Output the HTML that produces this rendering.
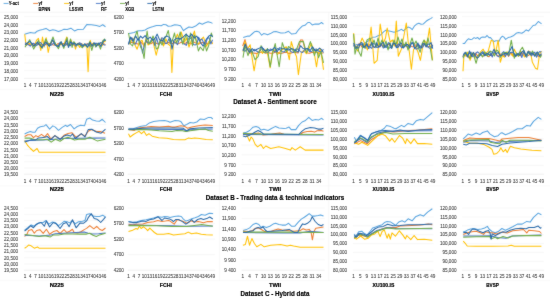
<!DOCTYPE html>
<html><head><meta charset="utf-8"><style>
html,body{margin:0;padding:0;background:#fff;}
svg{display:block;font-family:"Liberation Sans", sans-serif;will-change:transform;}
</style></head><body>
<svg width="550" height="298" viewBox="0 0 550 298">
<defs><filter id="bl" x="0" y="0" width="550" height="298" filterUnits="userSpaceOnUse" color-interpolation-filters="sRGB"><feConvolveMatrix order="3" kernelMatrix="1 2 1 2 24 2 1 2 1" edgeMode="duplicate"/></filter><filter id="bt" x="0" y="0" width="550" height="298" filterUnits="userSpaceOnUse" color-interpolation-filters="sRGB"><feConvolveMatrix order="3" kernelMatrix="0 1 0 1 16 1 0 1 0" edgeMode="none"/></filter></defs>
<rect width="550" height="298" fill="#fff"/>
<g filter="url(#bl)">
<rect width="550" height="298" fill="#fff"/>
<line x1="24.10" y1="16.60" x2="106.35" y2="16.60" stroke="#F2F2F2" stroke-width="0.6"/>
<line x1="24.10" y1="24.33" x2="106.35" y2="24.33" stroke="#F2F2F2" stroke-width="0.6"/>
<line x1="24.10" y1="32.05" x2="106.35" y2="32.05" stroke="#F2F2F2" stroke-width="0.6"/>
<line x1="24.10" y1="39.78" x2="106.35" y2="39.78" stroke="#F2F2F2" stroke-width="0.6"/>
<line x1="24.10" y1="47.50" x2="106.35" y2="47.50" stroke="#F2F2F2" stroke-width="0.6"/>
<line x1="24.10" y1="55.23" x2="106.35" y2="55.23" stroke="#F2F2F2" stroke-width="0.6"/>
<line x1="24.10" y1="62.95" x2="106.35" y2="62.95" stroke="#F2F2F2" stroke-width="0.6"/>
<line x1="24.10" y1="70.68" x2="106.35" y2="70.68" stroke="#F2F2F2" stroke-width="0.6"/>
<line x1="24.10" y1="78.40" x2="106.35" y2="78.40" stroke="#E6E6E6" stroke-width="0.6"/>
<polyline points="24.60,34.30 27.00,33.50 30.60,32.50 33.10,32.90 35.10,33.00 37.10,31.20 39.50,30.30 42.70,29.60 46.00,28.40 49.60,30.80 52.80,29.80 55.20,30.30 58.40,31.60 61.60,30.40 64.00,29.20 67.20,29.60 70.90,28.20 74.50,30.90 77.70,29.60 83.40,29.20 85.40,26.40 87.00,24.40 91.40,24.80 96.30,25.60 99.90,26.40 102.70,24.80 105.50,26.80" fill="none" stroke="#58A4DF" stroke-width="1.05" stroke-linejoin="round"/>
<polyline points="24.98,44.65 26.73,44.91 28.48,44.00 30.23,45.23 31.98,44.74 33.73,43.91 35.48,43.64 37.23,43.69 38.98,44.72 40.73,45.20 42.48,44.84 44.23,43.55 45.98,44.67 47.73,44.58 49.48,43.43 51.23,43.70 52.98,45.09 54.73,44.85 56.48,44.88 58.23,43.39 59.98,44.58 61.73,44.71 63.48,43.47 65.22,43.73 66.97,44.98 68.72,44.99 70.47,44.72 72.22,43.54 73.97,45.19 75.72,45.05 77.47,43.53 79.22,43.33 80.97,43.62 82.72,45.02 84.47,44.75 86.22,44.00 87.97,43.98 89.72,44.86 91.47,44.57 93.22,43.47 94.97,44.58 96.72,45.12 98.47,43.51 100.22,43.64 101.97,44.93 103.72,43.82 105.47,44.63" fill="none" stroke="#ED7D31" stroke-width="1.05" stroke-linejoin="round"/>
<polyline points="24.70,34.30 26.00,44.40 28.00,42.50 30.00,44.00 32.40,43.70 34.40,46.40 36.40,40.40 38.40,38.40 40.80,50.40 42.50,37.00 44.20,47.00 46.20,37.70 48.20,52.50 50.00,44.00 52.00,41.00 54.00,41.70 56.00,44.50 58.40,46.00 61.00,43.00 63.50,45.50 66.80,37.00 68.50,45.80 70.80,39.70 72.50,44.50 73.80,42.40 75.50,49.10 76.80,44.40 78.00,44.40 79.70,47.40 82.00,44.00 84.50,46.00 86.90,46.00 88.10,71.70 89.30,45.00 90.30,40.40 91.80,46.40 93.40,43.10 96.00,44.50 98.80,45.40 102.20,45.80 104.20,41.10 105.50,41.70" fill="none" stroke="#FFC000" stroke-width="1.05" stroke-linejoin="round"/>
<polyline points="24.98,42.72 26.73,43.57 28.48,44.83 30.23,46.18 31.98,43.47 33.73,43.26 35.48,46.04 37.23,45.12 38.98,42.56 40.73,42.60 42.48,45.05 44.23,45.74 45.98,43.67 47.73,43.29 49.48,45.56 51.23,45.17 52.98,43.67 54.73,42.54 56.48,46.16 58.23,45.86 59.98,42.53 61.73,43.51 63.48,45.70 65.22,45.48 66.97,43.34 68.72,44.92 70.47,45.74 72.22,43.02 73.97,42.75 75.72,46.30 77.47,44.90 79.22,42.85 80.97,43.39 82.72,45.45 84.47,45.28 86.22,45.10 87.97,43.65 89.72,45.86 91.47,45.95 93.22,46.09 94.97,43.30 96.72,43.36 98.47,44.86 100.22,42.46 101.97,42.70 103.72,44.83 105.47,45.28" fill="none" stroke="#4472C4" stroke-width="1.05" stroke-linejoin="round"/>
<polyline points="25.00,47.10 29.70,39.70 33.70,49.10 38.40,40.40 42.10,48.40 45.80,39.00 49.50,45.80 53.00,37.00 55.00,43.10 58.40,48.80 61.10,41.70 63.80,48.40 67.10,37.70 68.50,46.40 70.50,39.00 72.10,47.40 73.80,41.70 76.80,45.40 78.00,43.40 80.00,45.10 82.40,47.80 84.70,44.40 87.40,47.10 89.70,41.70 91.80,50.40 93.80,43.10 95.80,47.10 98.10,43.10 100.50,49.10 102.50,41.10 104.50,39.00 105.50,41.10" fill="none" stroke="#70AD47" stroke-width="1.05" stroke-linejoin="round"/>
<polyline points="25.00,44.70 30.00,41.40 33.70,46.10 37.40,42.40 41.80,47.40 45.80,41.70 49.20,46.40 52.70,39.70 55.00,45.10 58.40,46.40 61.10,41.70 63.40,46.40 66.80,40.40 68.50,47.40 70.80,41.70 72.50,44.40 74.20,43.10 76.80,44.70 78.00,43.70 80.70,44.70 82.70,46.40 84.70,43.70 87.70,47.10 90.10,42.40 92.10,45.80 94.10,42.70 96.50,46.10 98.80,43.10 100.80,46.40 103.20,41.70 104.80,39.70 105.50,40.70" fill="none" stroke="#2868A8" stroke-width="1.05" stroke-linejoin="round"/>
<line x1="127.70" y1="16.60" x2="215.20" y2="16.60" stroke="#F2F2F2" stroke-width="0.6"/>
<line x1="127.70" y1="32.05" x2="215.20" y2="32.05" stroke="#F2F2F2" stroke-width="0.6"/>
<line x1="127.70" y1="47.50" x2="215.20" y2="47.50" stroke="#F2F2F2" stroke-width="0.6"/>
<line x1="127.70" y1="62.95" x2="215.20" y2="62.95" stroke="#F2F2F2" stroke-width="0.6"/>
<line x1="127.70" y1="78.40" x2="215.20" y2="78.40" stroke="#E6E6E6" stroke-width="0.6"/>
<polyline points="128.40,33.60 130.80,33.20 134.00,32.60 136.40,31.60 138.80,30.80 142.00,30.80 145.20,30.00 147.60,28.40 150.00,27.40 153.20,26.60 156.40,25.60 159.60,25.40 161.20,25.80 163.60,24.40 166.00,24.80 168.20,26.20 171.30,26.10 174.70,24.70 177.20,24.90 180.50,25.70 182.20,28.60 183.50,30.70 185.60,29.00 188.90,27.00 192.20,27.40 195.60,26.10 199.40,23.00 202.30,24.20 204.80,23.00 208.10,21.70 210.60,22.40 212.50,23.40" fill="none" stroke="#58A4DF" stroke-width="1.05" stroke-linejoin="round"/>
<polyline points="128.57,43.74 130.32,42.10 132.07,42.65 133.82,42.12 135.57,43.27 137.32,43.88 139.07,44.00 140.82,42.12 142.57,43.90 144.32,43.87 146.07,42.04 147.82,42.48 149.57,43.62 151.32,43.67 153.07,42.25 154.82,42.27 156.57,43.51 158.32,43.85 160.07,42.23 161.82,42.29 163.57,43.58 165.32,43.65 167.07,42.60 168.82,42.48 170.57,43.59 172.32,43.46 174.07,42.32 175.82,42.57 177.57,43.91 179.32,43.35 181.07,42.26 182.82,42.46 184.57,43.95 186.32,42.58 188.07,42.15 189.82,43.73 191.57,43.80 193.32,42.09 195.07,42.60 196.82,43.64 198.57,43.93 200.32,43.43 202.07,42.59 203.82,42.72 205.57,42.72 207.32,43.80 209.07,43.39 210.82,42.63 212.57,42.67" fill="none" stroke="#ED7D31" stroke-width="1.05" stroke-linejoin="round"/>
<polyline points="129.00,44.20 133.00,38.10 135.00,45.00 137.10,49.20 139.50,42.00 142.10,40.20 144.00,47.00 146.50,38.00 148.00,45.00 150.10,43.20 152.50,39.00 154.50,48.00 156.20,55.20 159.20,43.20 161.50,38.00 163.50,46.00 166.00,39.00 168.00,44.00 170.70,46.20 171.90,72.40 173.30,44.20 175.50,40.00 177.30,34.10 179.50,40.00 181.30,32.10 184.40,42.20 186.50,38.00 189.00,47.00 191.50,40.00 194.40,31.10 196.50,42.00 198.40,44.20 200.50,40.00 203.50,37.10 206.50,46.20 208.50,42.00 210.50,40.20 212.60,44.00" fill="none" stroke="#FFC000" stroke-width="1.05" stroke-linejoin="round"/>
<polyline points="128.57,44.60 130.32,37.89 132.07,37.90 133.82,43.65 135.57,43.95 137.32,39.49 139.07,39.17 140.82,43.84 142.57,53.20 144.32,44.87 146.07,39.82 147.82,43.04 149.57,42.72 151.32,39.69 153.07,39.01 154.82,45.65 156.57,37.43 158.32,44.58 160.07,43.24 161.82,37.85 163.57,38.64 165.32,43.54 167.07,43.36 168.82,38.69 170.57,43.03 172.32,39.43 174.07,42.72 175.82,43.01 177.57,44.60 179.32,38.75 181.07,38.57 182.82,43.67 184.57,44.10 186.32,45.42 188.07,38.77 189.82,38.86 191.57,37.21 193.32,44.55 195.07,45.00 196.82,44.11 198.57,37.19 200.32,40.30 202.07,39.13 203.82,43.51 205.57,44.41 207.32,38.25 209.07,37.68 210.82,43.93 212.57,39.73" fill="none" stroke="#4472C4" stroke-width="1.05" stroke-linejoin="round"/>
<polyline points="128.50,33.00 130.50,44.00 132.50,46.00 135.00,37.00 137.10,31.00 139.00,42.00 141.00,48.00 142.50,50.00 144.10,58.50 145.60,42.00 147.10,31.00 149.00,44.00 151.20,42.00 153.00,36.00 154.80,40.00 156.20,49.00 158.20,48.00 160.00,41.00 162.00,45.00 164.00,40.00 166.20,36.00 168.30,30.50 170.50,44.00 172.50,40.00 174.50,33.00 176.50,43.00 178.50,38.00 180.30,32.00 182.50,44.00 184.50,39.00 186.40,34.00 188.50,44.00 190.50,33.00 192.50,46.00 194.40,35.00 196.50,42.00 198.40,51.00 200.20,47.00 203.20,50.70 205.00,44.00 206.50,51.00 208.50,46.00 210.00,40.00 211.30,33.00 212.60,37.00" fill="none" stroke="#70AD47" stroke-width="1.05" stroke-linejoin="round"/>
<polyline points="128.50,44.10 130.50,37.10 133.00,41.10 135.60,36.10 138.10,40.10 140.60,36.10 142.60,38.10 145.10,35.60 147.70,39.10 150.20,37.10 152.70,40.10 155.20,38.10 157.20,34.10 159.70,40.10 162.30,41.10 164.80,37.10 167.30,36.10 170.30,38.10 172.00,49.20 174.00,40.10 177.00,38.10 180.10,39.10 183.10,37.10 186.10,34.10 189.10,37.10 191.70,34.10 194.20,38.10 196.70,36.10 199.20,40.10 201.20,43.60 203.20,46.10 205.80,40.10 208.80,36.10 211.30,35.10 212.60,37.00" fill="none" stroke="#2868A8" stroke-width="1.05" stroke-linejoin="round"/>
<line x1="241.50" y1="20.40" x2="324.66" y2="20.40" stroke="#F2F2F2" stroke-width="0.6"/>
<line x1="241.50" y1="30.07" x2="324.66" y2="30.07" stroke="#F2F2F2" stroke-width="0.6"/>
<line x1="241.50" y1="39.73" x2="324.66" y2="39.73" stroke="#F2F2F2" stroke-width="0.6"/>
<line x1="241.50" y1="49.40" x2="324.66" y2="49.40" stroke="#F2F2F2" stroke-width="0.6"/>
<line x1="241.50" y1="59.07" x2="324.66" y2="59.07" stroke="#F2F2F2" stroke-width="0.6"/>
<line x1="241.50" y1="68.73" x2="324.66" y2="68.73" stroke="#F2F2F2" stroke-width="0.6"/>
<line x1="241.50" y1="78.40" x2="324.66" y2="78.40" stroke="#E6E6E6" stroke-width="0.6"/>
<polyline points="243.20,37.60 245.60,36.80 248.00,36.00 249.60,36.20 252.00,34.00 254.40,31.80 256.80,31.20 259.20,32.00 261.60,35.20 263.60,33.60 265.60,34.00 267.60,34.80 270.40,33.60 273.60,31.80 276.00,31.40 278.40,32.20 280.80,33.00 282.50,32.90 285.20,32.80 288.50,31.30 291.70,34.10 295.70,33.60 298.90,29.30 302.20,26.10 305.00,25.30 307.80,22.50 309.80,22.50 312.20,24.90 315.10,24.10 319.10,24.10 321.50,22.50 323.50,24.10" fill="none" stroke="#58A4DF" stroke-width="1.05" stroke-linejoin="round"/>
<polyline points="242.66,46.00 244.97,39.60 247.28,48.00 249.59,53.21 251.90,52.44 254.21,53.13 256.51,53.54 258.82,52.55 261.13,52.35 263.44,52.22 265.75,53.22 268.06,52.48 270.38,53.35 272.69,53.37 275.00,52.26 277.31,52.02 279.62,53.40 281.93,53.34 284.24,52.49 286.55,52.25 288.86,53.41 291.17,53.11 293.48,52.28 295.79,52.48 298.10,53.05 300.40,40.00 302.72,40.00 305.02,50.00 307.34,53.07 309.64,53.33 311.95,52.27 314.26,52.51 316.57,52.13 318.88,53.14 321.19,53.09 323.50,53.06" fill="none" stroke="#ED7D31" stroke-width="1.05" stroke-linejoin="round"/>
<polyline points="243.00,51.70 245.00,41.60 247.00,49.70 250.10,44.70 254.10,70.80 257.10,53.70 260.10,49.70 262.50,53.50 265.20,49.70 267.50,53.50 270.20,67.80 272.50,51.50 275.20,49.70 277.50,54.50 280.20,51.70 283.50,48.50 286.30,46.70 289.30,59.70 291.30,41.60 294.30,51.70 296.50,56.50 298.40,74.80 301.40,52.70 303.50,50.50 306.40,53.70 308.50,49.50 311.40,43.60 314.00,51.50 316.50,66.80 318.50,53.50 320.50,48.70 323.50,69.80" fill="none" stroke="#FFC000" stroke-width="1.05" stroke-linejoin="round"/>
<polyline points="242.66,49.73 244.97,51.29 247.28,48.94 249.59,48.79 251.90,52.09 254.21,49.34 256.51,51.04 258.82,52.44 261.13,48.98 263.44,48.57 265.75,52.03 268.06,52.26 270.38,48.98 272.69,49.89 275.00,51.99 277.31,48.61 279.62,49.49 281.93,51.47 284.24,52.00 286.55,48.77 288.86,48.71 291.17,51.84 293.48,52.39 295.79,49.14 298.10,49.02 300.40,51.72 302.72,52.46 305.02,49.29 307.34,48.50 309.64,51.80 311.95,51.13 314.26,49.61 316.57,49.03 318.88,51.31 321.19,51.61 323.50,49.46" fill="none" stroke="#4472C4" stroke-width="1.05" stroke-linejoin="round"/>
<polyline points="243.00,57.70 245.00,45.70 248.00,55.70 250.00,49.50 252.10,51.70 255.10,59.70 258.10,56.70 261.10,45.70 263.00,51.50 265.20,52.70 267.50,48.50 270.20,66.80 272.50,53.50 275.20,43.60 279.20,66.80 282.30,42.60 284.00,47.50 286.30,51.70 288.50,46.50 291.30,48.70 295.30,52.70 299.40,41.60 303.40,41.60 306.40,52.70 310.40,41.60 314.40,55.70 316.50,49.50 318.50,57.70 321.00,51.50 323.50,62.80" fill="none" stroke="#70AD47" stroke-width="1.05" stroke-linejoin="round"/>
<polyline points="243.20,50.50 245.20,44.00 247.30,49.30 249.70,52.50 252.10,48.50 254.50,50.90 256.90,49.30 259.40,48.10 261.80,46.90 263.80,50.10 265.80,50.90 267.80,49.30 269.80,50.90 272.30,49.70 274.70,47.30 277.10,51.70 279.50,47.70 282.00,48.50 285.20,48.90 288.50,50.10 291.70,48.50 294.90,50.10 298.10,52.10 300.50,45.70 303.00,48.50 305.40,48.90 307.80,48.50 310.20,50.50 312.60,46.90 315.10,50.90 317.50,50.10 319.50,48.10 321.50,49.70 323.50,52.50" fill="none" stroke="#2868A8" stroke-width="1.05" stroke-linejoin="round"/>
<line x1="352.80" y1="16.60" x2="433.55" y2="16.60" stroke="#F2F2F2" stroke-width="0.6"/>
<line x1="352.80" y1="25.43" x2="433.55" y2="25.43" stroke="#F2F2F2" stroke-width="0.6"/>
<line x1="352.80" y1="34.26" x2="433.55" y2="34.26" stroke="#F2F2F2" stroke-width="0.6"/>
<line x1="352.80" y1="43.09" x2="433.55" y2="43.09" stroke="#F2F2F2" stroke-width="0.6"/>
<line x1="352.80" y1="51.91" x2="433.55" y2="51.91" stroke="#F2F2F2" stroke-width="0.6"/>
<line x1="352.80" y1="60.74" x2="433.55" y2="60.74" stroke="#F2F2F2" stroke-width="0.6"/>
<line x1="352.80" y1="69.57" x2="433.55" y2="69.57" stroke="#F2F2F2" stroke-width="0.6"/>
<line x1="352.80" y1="78.40" x2="433.55" y2="78.40" stroke="#E6E6E6" stroke-width="0.6"/>
<polyline points="353.60,45.50 357.00,44.50 361.00,45.50 365.00,43.00 369.00,40.50 372.60,37.20 375.70,36.90 378.10,35.70 380.50,35.10 382.30,33.20 384.10,31.40 385.90,30.20 388.30,30.80 391.30,31.40 394.00,32.30 397.10,31.20 399.30,30.40 401.60,29.30 403.50,30.80 405.50,28.90 408.10,27.00 410.00,27.70 412.30,29.60 414.60,25.80 416.90,23.90 418.80,23.20 421.10,24.30 423.40,23.90 426.10,21.30 428.40,19.70 430.60,18.60 432.50,17.40" fill="none" stroke="#58A4DF" stroke-width="1.05" stroke-linejoin="round"/>
<polyline points="353.62,44.21 355.27,46.41 356.92,46.90 358.57,44.02 360.22,44.06 361.86,46.96 363.51,46.42 365.16,44.06 366.81,46.21 368.46,46.46 370.10,44.29 371.75,44.21 373.40,46.92 375.05,46.74 376.70,44.99 378.34,46.23 379.99,46.99 381.64,44.28 383.29,46.61 384.94,46.45 386.58,45.12 388.23,44.38 389.88,44.68 391.53,46.65 393.18,44.71 394.82,44.17 396.47,46.04 398.12,44.22 399.77,45.94 401.42,46.27 403.06,44.36 404.71,44.61 406.36,46.76 408.01,46.48 409.66,44.58 411.30,46.42 412.95,46.73 414.60,45.00 416.25,45.11 417.90,44.41 419.54,46.86 421.19,46.90 422.84,46.42 424.49,44.13 426.14,44.60 427.78,46.94 429.43,46.17 431.08,46.96 432.73,44.69" fill="none" stroke="#ED7D31" stroke-width="1.05" stroke-linejoin="round"/>
<polyline points="353.60,33.10 355.00,47.20 358.00,51.20 360.00,44.00 362.10,38.10 365.10,44.20 367.50,50.00 369.50,40.00 371.10,27.10 374.10,63.30 377.20,60.30 380.20,24.10 383.20,43.20 385.50,38.00 387.20,28.10 390.20,42.20 392.50,40.00 394.50,46.00 396.30,21.00 398.30,56.30 401.30,49.20 403.50,38.00 406.30,23.10 408.50,45.00 411.40,69.30 413.50,50.00 415.40,46.20 418.00,52.00 420.40,60.30 422.50,48.00 424.40,40.20 427.00,44.00 429.50,28.10 432.50,60.30" fill="none" stroke="#FFC000" stroke-width="1.05" stroke-linejoin="round"/>
<polyline points="353.62,45.19 355.27,48.77 356.92,47.57 358.57,44.30 360.22,44.48 361.86,44.10 363.51,46.97 365.16,48.12 366.81,43.56 368.46,48.55 370.10,47.32 371.75,48.34 373.40,43.45 375.05,43.93 376.70,47.41 378.34,47.23 379.99,44.05 381.64,44.95 383.29,47.97 384.94,47.31 386.58,43.94 388.23,48.58 389.88,47.68 391.53,47.39 393.18,43.47 394.82,43.49 396.47,47.77 398.12,44.08 399.77,44.30 401.42,47.57 403.06,47.37 404.71,44.90 406.36,45.10 408.01,47.91 409.66,47.93 411.30,43.15 412.95,43.13 414.60,48.46 416.25,48.92 417.90,48.61 419.54,45.10 421.19,47.51 422.84,47.14 424.49,43.58 426.14,44.17 427.78,46.75 429.43,48.18 431.08,47.95 432.73,44.89" fill="none" stroke="#4472C4" stroke-width="1.05" stroke-linejoin="round"/>
<polyline points="353.60,34.10 355.00,54.20 357.00,46.00 359.00,52.00 361.10,56.30 363.00,44.00 365.00,48.00 367.00,40.00 370.10,38.10 372.00,46.00 374.00,40.00 376.00,47.00 378.00,38.00 380.00,45.00 382.00,40.00 384.00,47.00 386.00,41.00 388.00,50.00 390.00,43.00 392.00,48.00 394.00,40.00 396.00,45.00 398.00,37.00 400.00,44.00 402.00,39.00 404.00,47.00 406.00,42.00 408.00,50.00 410.00,44.00 412.00,38.00 414.00,45.00 416.00,41.00 418.00,47.00 420.20,52.20 422.00,44.00 424.00,40.00 426.00,46.00 428.00,38.00 430.00,47.00 432.30,60.30" fill="none" stroke="#70AD47" stroke-width="1.05" stroke-linejoin="round"/>
<polyline points="353.62,42.91 355.27,46.99 356.92,47.66 358.57,48.11 360.22,43.13 361.86,42.47 363.51,47.17 365.16,46.33 366.81,43.80 368.46,47.12 370.10,46.42 371.75,42.35 373.40,46.68 375.05,47.66 376.70,42.67 378.34,47.01 379.99,46.48 381.64,43.39 383.29,42.37 384.94,47.08 386.58,47.23 388.23,42.84 389.88,43.49 391.53,48.43 393.18,43.09 394.82,43.56 396.47,47.21 398.12,47.36 399.77,44.08 401.42,42.97 403.06,48.19 404.71,46.34 406.36,44.47 408.01,44.64 409.66,47.78 411.30,43.09 412.95,42.71 414.60,48.29 416.25,47.00 417.90,42.92 419.54,47.97 421.19,48.07 422.84,43.40 424.49,43.88 426.14,47.00 427.78,43.87 429.43,44.50 431.08,42.68 432.73,48.66" fill="none" stroke="#2868A8" stroke-width="1.05" stroke-linejoin="round"/>
<line x1="462.00" y1="16.60" x2="543.88" y2="16.60" stroke="#F2F2F2" stroke-width="0.6"/>
<line x1="462.00" y1="25.43" x2="543.88" y2="25.43" stroke="#F2F2F2" stroke-width="0.6"/>
<line x1="462.00" y1="34.26" x2="543.88" y2="34.26" stroke="#F2F2F2" stroke-width="0.6"/>
<line x1="462.00" y1="43.09" x2="543.88" y2="43.09" stroke="#F2F2F2" stroke-width="0.6"/>
<line x1="462.00" y1="51.91" x2="543.88" y2="51.91" stroke="#F2F2F2" stroke-width="0.6"/>
<line x1="462.00" y1="60.74" x2="543.88" y2="60.74" stroke="#F2F2F2" stroke-width="0.6"/>
<line x1="462.00" y1="69.57" x2="543.88" y2="69.57" stroke="#F2F2F2" stroke-width="0.6"/>
<line x1="462.00" y1="78.40" x2="543.88" y2="78.40" stroke="#E6E6E6" stroke-width="0.6"/>
<polyline points="462.70,43.40 464.60,43.40 466.50,40.70 468.40,38.80 470.30,39.50 472.20,39.20 474.10,37.60 475.60,38.40 477.60,37.50 479.50,39.30 481.00,37.60 482.90,37.00 485.20,37.30 487.10,35.50 489.00,37.60 490.50,37.60 492.10,39.50 494.00,41.50 495.90,40.70 497.40,40.70 498.90,41.50 500.50,38.20 502.40,36.20 504.00,37.10 505.60,39.40 508.10,37.60 510.50,37.10 513.30,35.80 516.10,33.30 518.50,32.50 521.80,33.30 524.20,31.70 526.20,29.90 528.60,30.90 530.60,28.50 533.10,25.50 535.50,24.90 538.30,21.50 540.30,22.90 541.50,23.70" fill="none" stroke="#58A4DF" stroke-width="1.05" stroke-linejoin="round"/>
<polyline points="462.82,56.75 464.46,53.64 466.09,56.06 467.73,56.27 469.37,58.50 471.01,53.71 472.64,53.35 474.28,55.98 475.92,53.40 477.56,55.96 479.19,54.33 480.83,54.38 482.47,56.26 484.11,55.82 485.74,54.04 487.38,56.23 489.02,56.72 490.66,54.15 492.29,56.16 493.93,53.22 495.57,53.67 497.21,55.58 498.84,56.07 500.48,54.10 502.12,54.32 503.76,56.50 505.39,53.37 507.03,54.05 508.67,56.36 510.31,53.24 511.94,53.66 513.58,56.12 515.22,56.42 516.86,53.91 518.49,53.74 520.13,55.93 521.77,53.37 523.41,53.77 525.04,55.60 526.68,56.02 528.32,55.50 529.96,54.41 531.59,55.62 533.23,53.21 534.87,54.39 536.51,53.88 538.14,56.59 539.78,55.57 541.42,54.42" fill="none" stroke="#ED7D31" stroke-width="1.05" stroke-linejoin="round"/>
<polyline points="463.00,71.30 464.00,54.20 466.00,56.00 468.00,52.00 470.10,60.30 472.00,55.00 474.10,53.20 476.00,58.00 478.10,57.30 480.50,52.00 483.20,49.20 485.50,54.00 488.20,51.20 491.20,40.20 493.20,41.20 495.20,54.20 498.20,40.20 500.30,62.30 502.50,55.00 504.30,57.30 507.00,52.00 510.30,53.20 512.50,56.00 514.30,49.20 516.50,54.00 518.40,56.30 520.50,51.00 522.40,53.20 524.50,57.00 526.40,56.30 528.50,51.00 530.40,52.20 532.40,62.30 535.50,68.30 537.50,69.30 539.50,54.20 541.50,51.20" fill="none" stroke="#FFC000" stroke-width="1.05" stroke-linejoin="round"/>
<polyline points="462.82,56.83 464.46,53.35 466.09,53.10 467.73,55.51 469.37,53.52 471.01,52.20 472.64,56.81 474.28,56.58 475.92,52.94 477.56,51.86 479.19,53.39 480.83,55.41 482.47,53.14 484.11,53.51 485.74,55.33 487.38,55.47 489.02,51.69 490.66,53.46 492.29,57.00 493.93,52.23 495.57,52.15 497.21,56.08 498.84,56.67 500.48,57.05 502.12,53.23 503.76,51.51 505.39,56.64 507.03,53.12 508.67,55.75 510.31,52.44 511.94,52.29 513.58,53.12 515.22,56.52 516.86,55.50 518.49,53.50 520.13,52.38 521.77,57.50 523.41,52.23 525.04,53.47 526.68,57.35 528.32,52.36 529.96,51.68 531.59,55.86 533.23,52.77 534.87,52.20 536.51,57.18 538.14,53.12 539.78,51.56 541.42,52.06" fill="none" stroke="#4472C4" stroke-width="1.05" stroke-linejoin="round"/>
<polyline points="463.00,58.30 466.00,52.20 468.00,56.00 470.10,58.30 472.00,53.00 474.00,56.00 476.10,63.30 478.00,56.00 480.10,53.20 482.50,57.00 485.00,52.00 487.50,56.00 490.00,51.00 492.20,52.20 494.50,56.00 496.50,50.00 498.20,51.20 500.50,57.00 503.00,53.00 506.30,52.20 508.50,55.00 511.30,40.20 514.30,58.30 516.50,53.00 518.50,56.00 520.50,50.00 522.40,47.20 524.50,52.00 526.40,56.30 528.50,52.00 530.50,55.00 532.50,51.00 535.00,56.00 537.50,52.00 540.50,57.30 541.50,55.00" fill="none" stroke="#70AD47" stroke-width="1.05" stroke-linejoin="round"/>
<polyline points="463.40,54.70 465.30,52.40 467.60,57.00 469.50,50.90 471.50,56.20 473.40,52.40 475.30,55.50 477.20,58.10 479.10,56.60 481.00,53.20 482.90,51.60 484.80,55.80 486.70,53.20 488.60,54.30 490.50,55.50 492.40,52.40 494.00,49.30 495.90,53.90 498.20,52.40 500.10,55.50 502.40,54.90 504.80,53.30 507.30,54.10 509.70,50.90 512.10,46.50 513.70,52.90 515.70,56.10 517.70,53.70 519.80,55.30 521.80,52.10 523.80,50.50 525.80,56.10 528.20,51.30 530.20,54.50 532.30,52.90 534.70,56.10 537.10,52.10 539.50,56.10 541.50,53.70" fill="none" stroke="#2868A8" stroke-width="1.05" stroke-linejoin="round"/>
<line x1="24.10" y1="112.10" x2="106.35" y2="112.10" stroke="#F2F2F2" stroke-width="0.6"/>
<line x1="24.10" y1="118.31" x2="106.35" y2="118.31" stroke="#F2F2F2" stroke-width="0.6"/>
<line x1="24.10" y1="124.52" x2="106.35" y2="124.52" stroke="#F2F2F2" stroke-width="0.6"/>
<line x1="24.10" y1="130.73" x2="106.35" y2="130.73" stroke="#F2F2F2" stroke-width="0.6"/>
<line x1="24.10" y1="136.94" x2="106.35" y2="136.94" stroke="#F2F2F2" stroke-width="0.6"/>
<line x1="24.10" y1="143.15" x2="106.35" y2="143.15" stroke="#F2F2F2" stroke-width="0.6"/>
<line x1="24.10" y1="149.36" x2="106.35" y2="149.36" stroke="#F2F2F2" stroke-width="0.6"/>
<line x1="24.10" y1="155.57" x2="106.35" y2="155.57" stroke="#F2F2F2" stroke-width="0.6"/>
<line x1="24.10" y1="161.78" x2="106.35" y2="161.78" stroke="#F2F2F2" stroke-width="0.6"/>
<line x1="24.10" y1="167.99" x2="106.35" y2="167.99" stroke="#F2F2F2" stroke-width="0.6"/>
<line x1="24.10" y1="174.20" x2="106.35" y2="174.20" stroke="#E6E6E6" stroke-width="0.6"/>
<polyline points="24.60,134.00 27.00,132.70 30.30,131.50 32.70,132.30 35.10,132.30 37.50,128.30 40.30,126.70 44.40,125.90 46.00,124.70 49.60,129.10 52.80,125.90 55.30,127.10 58.50,130.30 62.50,127.10 65.70,125.30 67.20,126.50 70.50,124.50 74.10,128.90 77.30,126.50 80.50,125.30 84.60,125.70 86.60,119.30 89.80,118.00 92.60,120.10 96.30,120.90 99.50,121.30 102.30,119.30 105.50,122.50" fill="none" stroke="#58A4DF" stroke-width="1.05" stroke-linejoin="round"/>
<polyline points="24.60,136.50 27.80,134.80 31.10,134.80 33.50,137.70 35.90,135.60 37.90,136.90 41.50,134.40 44.80,136.90 47.60,133.60 50.80,138.90 54.90,135.60 60.10,139.30 64.00,135.30 68.00,133.60 72.10,132.80 76.10,137.30 81.30,134.00 85.00,136.10 88.20,131.20 91.40,129.60 96.30,131.60 100.30,131.60 105.10,133.20" fill="none" stroke="#ED7D31" stroke-width="1.05" stroke-linejoin="round"/>
<polyline points="24.60,140.50 27.80,145.70 30.50,148.50 33.50,151.40 37.10,148.50 39.10,152.20 105.50,152.20" fill="none" stroke="#FFC000" stroke-width="1.05" stroke-linejoin="round"/>
<polyline points="24.60,141.00 30.00,140.60 35.10,140.30 43.20,140.00 55.00,139.20 64.00,138.40 80.00,138.20 95.00,138.10 105.50,138.00" fill="none" stroke="#4472C4" stroke-width="1.05" stroke-linejoin="round"/>
<polyline points="24.60,138.10 29.50,138.10 35.10,139.70 43.20,139.70 47.20,139.30 51.20,142.10 55.30,139.30 60.10,141.30 64.00,138.50 68.00,137.30 74.50,140.10 80.10,138.90 85.00,139.30 89.80,137.30 97.10,140.90 105.50,139.30" fill="none" stroke="#70AD47" stroke-width="1.05" stroke-linejoin="round"/>
<polyline points="24.60,142.10 27.80,140.90 31.10,139.70 35.10,140.10 38.30,138.10 41.50,137.70 44.80,137.30 47.20,136.50 50.80,139.70 54.90,135.60 60.10,139.30 64.00,136.10 67.20,134.90 70.50,136.10 72.50,134.00 75.30,138.50 81.30,133.60 85.00,136.90 88.20,129.60 91.80,129.20 96.30,132.00 101.10,133.20 105.50,129.20" fill="none" stroke="#2868A8" stroke-width="1.05" stroke-linejoin="round"/>
<line x1="127.70" y1="112.10" x2="215.20" y2="112.10" stroke="#F2F2F2" stroke-width="0.6"/>
<line x1="127.70" y1="127.62" x2="215.20" y2="127.62" stroke="#F2F2F2" stroke-width="0.6"/>
<line x1="127.70" y1="143.15" x2="215.20" y2="143.15" stroke="#F2F2F2" stroke-width="0.6"/>
<line x1="127.70" y1="158.67" x2="215.20" y2="158.67" stroke="#F2F2F2" stroke-width="0.6"/>
<line x1="127.70" y1="174.20" x2="215.20" y2="174.20" stroke="#E6E6E6" stroke-width="0.6"/>
<polyline points="128.50,129.10 132.70,129.10 136.90,127.50 141.10,126.20 146.10,125.40 149.40,122.90 153.60,121.60 159.40,120.80 164.50,120.40 167.80,121.20 170.00,122.30 175.00,120.40 178.40,120.80 180.90,121.60 183.80,125.80 186.70,124.50 190.10,122.50 193.40,122.90 196.80,122.00 200.10,119.10 204.30,119.50 208.50,117.40 211.00,117.40 212.80,119.00" fill="none" stroke="#58A4DF" stroke-width="1.05" stroke-linejoin="round"/>
<polyline points="128.50,129.60 134.40,130.40 138.50,127.90 146.90,127.10 151.10,126.60 159.40,127.10 168.60,126.20 172.00,127.10 175.00,127.10 180.90,125.80 185.00,126.60 187.60,128.30 191.70,127.10 198.40,125.80 205.10,125.00 212.80,125.40" fill="none" stroke="#ED7D31" stroke-width="1.05" stroke-linejoin="round"/>
<polyline points="128.50,133.70 130.10,137.00 133.40,134.50 136.60,132.60 139.10,131.30 141.50,133.70 144.00,131.30 146.50,135.40 148.90,133.70 152.20,136.20 158.70,137.80 166.90,138.30 173.50,139.50 180.00,139.80 184.90,139.80 188.20,138.10 191.50,138.60 194.70,138.10 199.60,138.60 206.20,139.50 212.80,139.80" fill="none" stroke="#FFC000" stroke-width="1.05" stroke-linejoin="round"/>
<polyline points="128.50,129.30 150.00,129.20 172.00,129.60 183.40,129.60 186.70,131.20 190.10,129.80 212.80,129.00" fill="none" stroke="#4472C4" stroke-width="1.05" stroke-linejoin="round"/>
<polyline points="128.50,129.60 142.70,129.60 151.10,130.00 159.40,130.80 172.00,131.40 176.70,130.40 182.50,130.80 185.50,131.60 190.10,130.80 199.30,129.60 205.10,129.10 208.50,130.40 212.80,131.20" fill="none" stroke="#70AD47" stroke-width="1.05" stroke-linejoin="round"/>
<polyline points="128.50,129.10 134.40,129.10 142.70,128.30 151.10,127.90 172.00,127.90 178.40,127.90 183.40,128.30 186.70,130.80 190.10,128.70 199.30,127.90 212.80,127.50" fill="none" stroke="#2868A8" stroke-width="1.05" stroke-linejoin="round"/>
<line x1="241.50" y1="116.10" x2="324.66" y2="116.10" stroke="#F2F2F2" stroke-width="0.6"/>
<line x1="241.50" y1="125.78" x2="324.66" y2="125.78" stroke="#F2F2F2" stroke-width="0.6"/>
<line x1="241.50" y1="135.47" x2="324.66" y2="135.47" stroke="#F2F2F2" stroke-width="0.6"/>
<line x1="241.50" y1="145.15" x2="324.66" y2="145.15" stroke="#F2F2F2" stroke-width="0.6"/>
<line x1="241.50" y1="154.83" x2="324.66" y2="154.83" stroke="#F2F2F2" stroke-width="0.6"/>
<line x1="241.50" y1="164.52" x2="324.66" y2="164.52" stroke="#F2F2F2" stroke-width="0.6"/>
<line x1="241.50" y1="174.20" x2="324.66" y2="174.20" stroke="#E6E6E6" stroke-width="0.6"/>
<polyline points="243.00,133.10 246.40,132.20 249.70,130.50 253.00,127.20 256.00,126.40 258.90,127.60 261.00,130.10 263.90,129.30 268.10,130.50 271.40,128.50 275.60,126.40 279.00,128.00 284.00,128.40 286.20,128.30 289.10,127.10 291.20,129.60 295.80,129.60 298.70,125.40 302.10,122.00 305.00,120.80 308.80,117.40 312.10,120.40 315.40,119.50 318.80,119.90 321.70,118.30 323.50,119.90" fill="none" stroke="#58A4DF" stroke-width="1.05" stroke-linejoin="round"/>
<polyline points="243.00,133.90 254.70,133.50 258.90,133.10 263.10,135.10 271.40,134.30 275.60,133.50 279.80,133.10 284.00,134.30 298.00,134.40 300.40,134.20 302.90,132.50 307.10,131.60 311.30,131.20 314.60,132.10 317.10,130.80 321.30,130.40 323.50,131.20" fill="none" stroke="#ED7D31" stroke-width="1.05" stroke-linejoin="round"/>
<polyline points="242.90,133.00 247.00,135.40 249.50,141.10 251.10,137.00 252.70,138.60 255.20,144.40 257.60,146.80 260.90,144.40 263.40,148.50 265.80,146.00 270.70,148.50 278.90,146.80 285.50,148.50 290.40,150.10 292.00,147.60 295.30,150.10 300.20,146.80 305.10,150.10 311.60,150.10 323.50,150.10" fill="none" stroke="#FFC000" stroke-width="1.05" stroke-linejoin="round"/>
<polyline points="243.00,134.40 284.00,134.80 323.50,135.00" fill="none" stroke="#4472C4" stroke-width="1.05" stroke-linejoin="round"/>
<polyline points="243.00,133.60 260.00,134.00 284.00,134.30 323.50,134.60" fill="none" stroke="#70AD47" stroke-width="1.05" stroke-linejoin="round"/>
<polyline points="243.00,136.00 245.50,136.80 248.90,135.60 252.20,133.90 254.70,132.20 258.10,130.50 261.40,132.20 263.90,134.30 284.00,134.30 298.70,134.60 302.10,131.20 305.40,128.70 310.40,127.50 314.60,127.90 318.00,129.10 321.30,129.10 323.50,128.30" fill="none" stroke="#2868A8" stroke-width="1.05" stroke-linejoin="round"/>
<line x1="352.80" y1="112.10" x2="433.55" y2="112.10" stroke="#F2F2F2" stroke-width="0.6"/>
<line x1="352.80" y1="120.97" x2="433.55" y2="120.97" stroke="#F2F2F2" stroke-width="0.6"/>
<line x1="352.80" y1="129.84" x2="433.55" y2="129.84" stroke="#F2F2F2" stroke-width="0.6"/>
<line x1="352.80" y1="138.71" x2="433.55" y2="138.71" stroke="#F2F2F2" stroke-width="0.6"/>
<line x1="352.80" y1="147.59" x2="433.55" y2="147.59" stroke="#F2F2F2" stroke-width="0.6"/>
<line x1="352.80" y1="156.46" x2="433.55" y2="156.46" stroke="#F2F2F2" stroke-width="0.6"/>
<line x1="352.80" y1="165.33" x2="433.55" y2="165.33" stroke="#F2F2F2" stroke-width="0.6"/>
<line x1="352.80" y1="174.20" x2="433.55" y2="174.20" stroke="#E6E6E6" stroke-width="0.6"/>
<polyline points="354.30,137.30 356.40,141.10 360.20,135.20 365.00,137.90 367.70,140.60 370.40,134.60 375.80,132.00 381.10,130.40 384.40,128.20 386.50,125.50 390.80,126.60 394.00,128.20 396.00,128.80 401.40,125.40 404.10,126.80 408.10,123.40 412.80,124.80 416.20,120.80 420.20,119.40 423.50,120.10 427.60,116.70 432.30,112.70" fill="none" stroke="#58A4DF" stroke-width="1.05" stroke-linejoin="round"/>
<polyline points="354.30,143.80 360.70,140.60 367.20,143.80 371.50,139.50 376.90,136.30 382.20,133.00 387.60,131.40 394.00,132.00 405.40,130.80 418.80,130.10 432.30,128.80" fill="none" stroke="#ED7D31" stroke-width="1.05" stroke-linejoin="round"/>
<polyline points="354.30,142.70 358.60,144.30 361.80,142.20 367.70,145.40 371.50,141.60 377.90,135.70 382.20,134.10 385.40,135.70 389.70,141.10 391.90,138.40 394.70,142.20 399.40,135.50 402.70,138.20 405.40,143.60 406.80,138.90 410.80,143.60 414.10,138.90 417.50,143.60 424.20,143.60 432.30,144.20" fill="none" stroke="#FFC000" stroke-width="1.05" stroke-linejoin="round"/>
<polyline points="354.30,142.50 360.70,138.50 367.20,142.50 371.50,137.50 377.90,133.00 385.40,131.50 393.00,131.00 432.30,130.80" fill="none" stroke="#4472C4" stroke-width="1.05" stroke-linejoin="round"/>
<polyline points="354.30,141.60 360.70,137.90 367.20,141.60 371.50,136.80 377.90,134.10 385.40,132.50 393.00,134.10 405.00,133.50 432.30,133.50" fill="none" stroke="#70AD47" stroke-width="1.05" stroke-linejoin="round"/>
<polyline points="354.30,143.20 356.40,141.10 360.70,135.70 365.00,138.50 367.70,140.50 371.50,133.60 379.00,130.90 385.40,130.40 393.00,131.40 400.10,130.10 408.10,131.50 418.80,130.10 432.30,129.50" fill="none" stroke="#2868A8" stroke-width="1.05" stroke-linejoin="round"/>
<line x1="462.00" y1="112.10" x2="543.88" y2="112.10" stroke="#F2F2F2" stroke-width="0.6"/>
<line x1="462.00" y1="120.97" x2="543.88" y2="120.97" stroke="#F2F2F2" stroke-width="0.6"/>
<line x1="462.00" y1="129.84" x2="543.88" y2="129.84" stroke="#F2F2F2" stroke-width="0.6"/>
<line x1="462.00" y1="138.71" x2="543.88" y2="138.71" stroke="#F2F2F2" stroke-width="0.6"/>
<line x1="462.00" y1="147.59" x2="543.88" y2="147.59" stroke="#F2F2F2" stroke-width="0.6"/>
<line x1="462.00" y1="156.46" x2="543.88" y2="156.46" stroke="#F2F2F2" stroke-width="0.6"/>
<line x1="462.00" y1="165.33" x2="543.88" y2="165.33" stroke="#F2F2F2" stroke-width="0.6"/>
<line x1="462.00" y1="174.20" x2="543.88" y2="174.20" stroke="#E6E6E6" stroke-width="0.6"/>
<polyline points="463.20,138.90 465.40,136.80 468.10,134.10 471.80,135.20 476.10,133.00 479.90,134.60 482.60,132.50 487.40,130.90 490.10,134.10 494.40,136.80 498.10,135.70 500.80,133.00 502.00,132.80 505.40,134.80 508.70,133.50 512.70,131.50 517.40,128.80 522.10,128.80 526.80,125.40 530.20,126.10 533.50,121.40 538.20,117.40 541.40,119.40" fill="none" stroke="#58A4DF" stroke-width="1.05" stroke-linejoin="round"/>
<polyline points="463.20,140.60 469.70,137.90 476.10,138.40 489.00,138.40 495.40,140.00 499.70,141.10 502.00,138.90 510.10,138.20 518.10,137.50 528.80,137.50 541.40,140.20" fill="none" stroke="#ED7D31" stroke-width="1.05" stroke-linejoin="round"/>
<polyline points="463.20,141.40 469.60,143.00 477.60,143.30 484.00,144.60 488.80,147.00 492.00,149.40 493.60,154.20 496.80,153.40 499.20,151.00 500.80,147.80 503.20,151.80 505.60,149.40 507.20,152.60 510.40,146.20 514.40,147.80 520.80,149.10 532.00,150.20 541.40,150.70" fill="none" stroke="#FFC000" stroke-width="1.05" stroke-linejoin="round"/>
<polyline points="463.20,142.20 470.70,140.60 489.00,141.00 495.40,142.50 502.00,141.80 520.00,141.00 541.40,140.60" fill="none" stroke="#4472C4" stroke-width="1.05" stroke-linejoin="round"/>
<polyline points="463.20,141.10 469.70,140.00 489.00,139.50 490.10,142.20 495.40,143.20 499.70,143.80 502.00,140.20 506.00,142.20 510.10,140.20 528.80,140.20 541.40,140.90" fill="none" stroke="#70AD47" stroke-width="1.05" stroke-linejoin="round"/>
<polyline points="463.20,144.30 466.40,144.90 469.70,143.20 476.10,143.20 486.90,143.80 492.20,145.40 497.60,146.50 502.00,144.20 510.10,142.90 528.80,141.60 541.40,140.20" fill="none" stroke="#2868A8" stroke-width="1.05" stroke-linejoin="round"/>
<line x1="24.10" y1="208.10" x2="106.35" y2="208.10" stroke="#F2F2F2" stroke-width="0.6"/>
<line x1="24.10" y1="214.31" x2="106.35" y2="214.31" stroke="#F2F2F2" stroke-width="0.6"/>
<line x1="24.10" y1="220.52" x2="106.35" y2="220.52" stroke="#F2F2F2" stroke-width="0.6"/>
<line x1="24.10" y1="226.73" x2="106.35" y2="226.73" stroke="#F2F2F2" stroke-width="0.6"/>
<line x1="24.10" y1="232.94" x2="106.35" y2="232.94" stroke="#F2F2F2" stroke-width="0.6"/>
<line x1="24.10" y1="239.15" x2="106.35" y2="239.15" stroke="#F2F2F2" stroke-width="0.6"/>
<line x1="24.10" y1="245.36" x2="106.35" y2="245.36" stroke="#F2F2F2" stroke-width="0.6"/>
<line x1="24.10" y1="251.57" x2="106.35" y2="251.57" stroke="#F2F2F2" stroke-width="0.6"/>
<line x1="24.10" y1="257.78" x2="106.35" y2="257.78" stroke="#F2F2F2" stroke-width="0.6"/>
<line x1="24.10" y1="263.99" x2="106.35" y2="263.99" stroke="#F2F2F2" stroke-width="0.6"/>
<line x1="24.10" y1="270.20" x2="106.35" y2="270.20" stroke="#E6E6E6" stroke-width="0.6"/>
<polyline points="24.60,230.10 27.80,227.70 31.10,224.90 33.90,226.10 37.10,223.70 40.30,222.50 43.20,222.50 46.00,220.50 48.80,224.10 52.00,222.10 55.30,222.50 58.50,225.70 61.70,223.30 64.00,221.30 67.20,221.70 69.60,222.90 72.10,220.90 75.30,223.70 78.50,221.70 82.50,221.30 85.00,220.50 86.60,214.50 89.80,213.70 93.00,216.10 96.30,216.50 99.50,216.50 102.70,215.30 105.50,216.90" fill="none" stroke="#58A4DF" stroke-width="1.05" stroke-linejoin="round"/>
<polyline points="24.60,236.50 27.00,234.10 28.60,230.40 31.90,229.60 34.30,233.20 36.70,230.50 39.90,229.70 43.20,233.40 46.40,229.30 49.60,234.20 53.60,231.40 56.90,230.50 60.10,233.40 64.00,229.60 66.80,232.50 69.60,231.30 72.50,229.20 74.10,232.50 77.70,232.90 80.90,231.70 84.20,229.60 86.60,228.40 89.80,225.60 93.80,228.80 96.70,226.40 99.50,229.20 102.30,230.50 105.50,228.00" fill="none" stroke="#ED7D31" stroke-width="1.05" stroke-linejoin="round"/>
<polyline points="24.60,248.20 27.00,246.60 28.60,245.00 31.10,245.80 34.30,248.20 37.50,247.00 39.10,248.20 105.50,248.20" fill="none" stroke="#FFC000" stroke-width="1.05" stroke-linejoin="round"/>
<polyline points="24.60,235.30 39.10,236.10 51.20,234.90 55.30,233.70 64.00,233.30 84.20,232.10 88.20,233.30 92.20,234.10 98.70,233.70 105.50,232.90" fill="none" stroke="#4472C4" stroke-width="1.05" stroke-linejoin="round"/>
<polyline points="24.60,234.50 31.10,235.30 39.10,236.50 44.80,235.70 50.40,236.90 53.60,234.90 58.50,234.90 64.00,234.00 72.10,234.10 80.10,234.10 86.60,234.10 89.80,233.30 93.00,235.30 96.30,236.50 99.50,234.90 105.50,233.30" fill="none" stroke="#70AD47" stroke-width="1.05" stroke-linejoin="round"/>
<polyline points="24.60,231.00 27.80,228.50 30.70,225.70 33.50,227.70 35.50,225.30 38.30,223.30 41.10,222.50 44.40,226.10 46.40,220.90 49.60,226.90 53.20,222.50 56.10,223.70 60.10,228.50 63.30,223.70 66.40,222.50 69.20,226.60 72.50,219.70 76.10,227.80 80.10,222.90 83.40,223.30 86.60,220.90 88.20,217.70 91.40,213.70 94.20,218.50 97.10,219.30 98.70,220.50 100.70,222.50 103.50,219.30 105.50,216.90" fill="none" stroke="#2868A8" stroke-width="1.05" stroke-linejoin="round"/>
<line x1="127.70" y1="208.10" x2="215.20" y2="208.10" stroke="#F2F2F2" stroke-width="0.6"/>
<line x1="127.70" y1="223.62" x2="215.20" y2="223.62" stroke="#F2F2F2" stroke-width="0.6"/>
<line x1="127.70" y1="239.15" x2="215.20" y2="239.15" stroke="#F2F2F2" stroke-width="0.6"/>
<line x1="127.70" y1="254.67" x2="215.20" y2="254.67" stroke="#F2F2F2" stroke-width="0.6"/>
<line x1="127.70" y1="270.20" x2="215.20" y2="270.20" stroke="#E6E6E6" stroke-width="0.6"/>
<polyline points="128.50,221.40 132.70,222.20 136.90,221.80 141.10,220.50 146.10,219.70 149.40,218.90 153.60,218.00 157.80,216.80 162.00,217.20 164.50,216.40 167.80,216.80 170.00,217.40 174.20,216.50 178.40,216.10 181.30,216.50 183.40,219.10 185.90,221.10 188.40,220.30 190.90,219.10 195.10,217.80 198.40,216.50 201.40,214.50 205.10,215.30 209.30,213.20 212.60,213.60 212.80,214.00" fill="none" stroke="#58A4DF" stroke-width="1.05" stroke-linejoin="round"/>
<polyline points="128.50,224.30 132.70,224.70 136.90,224.30 142.70,223.90 147.70,222.60 153.60,221.80 157.80,220.50 162.00,221.40 165.30,221.00 168.60,220.50 170.00,221.10 174.20,224.10 177.50,219.50 180.90,220.70 183.80,221.60 186.70,223.20 190.90,220.70 194.20,222.00 198.40,221.60 203.40,222.80 207.60,221.60 212.80,221.60" fill="none" stroke="#ED7D31" stroke-width="1.05" stroke-linejoin="round"/>
<polyline points="128.50,231.60 131.90,230.60 136.00,228.50 137.70,229.30 139.40,226.00 141.10,228.50 143.60,226.80 146.10,228.90 147.70,230.60 149.80,228.10 151.90,230.20 154.40,232.50 157.10,234.30 163.60,234.30 168.60,233.50 173.50,235.10 180.00,234.30 184.90,233.80 188.20,232.10 191.50,233.80 196.40,233.10 201.30,234.30 206.20,234.80 212.80,235.10" fill="none" stroke="#FFC000" stroke-width="1.05" stroke-linejoin="round"/>
<polyline points="128.50,225.10 172.00,225.80 186.70,226.20 212.80,226.00" fill="none" stroke="#4472C4" stroke-width="1.05" stroke-linejoin="round"/>
<polyline points="128.50,225.60 151.10,225.60 172.00,226.40 186.70,226.60 201.80,224.50 212.80,226.20" fill="none" stroke="#70AD47" stroke-width="1.05" stroke-linejoin="round"/>
<polyline points="128.50,221.80 132.70,222.60 136.90,222.60 142.70,221.00 146.10,221.40 149.40,219.70 153.60,218.90 158.20,216.80 162.00,220.50 164.50,218.00 169.50,218.90 172.00,220.20 173.30,221.60 175.90,219.50 178.40,219.50 181.70,221.10 185.90,224.10 189.20,222.00 191.70,219.50 194.20,222.40 197.60,219.50 200.90,218.60 203.40,219.50 206.80,218.60 209.70,217.00 212.80,219.00" fill="none" stroke="#2868A8" stroke-width="1.05" stroke-linejoin="round"/>
<line x1="241.50" y1="208.10" x2="324.66" y2="208.10" stroke="#F2F2F2" stroke-width="0.6"/>
<line x1="241.50" y1="218.45" x2="324.66" y2="218.45" stroke="#F2F2F2" stroke-width="0.6"/>
<line x1="241.50" y1="228.80" x2="324.66" y2="228.80" stroke="#F2F2F2" stroke-width="0.6"/>
<line x1="241.50" y1="239.15" x2="324.66" y2="239.15" stroke="#F2F2F2" stroke-width="0.6"/>
<line x1="241.50" y1="249.50" x2="324.66" y2="249.50" stroke="#F2F2F2" stroke-width="0.6"/>
<line x1="241.50" y1="259.85" x2="324.66" y2="259.85" stroke="#F2F2F2" stroke-width="0.6"/>
<line x1="241.50" y1="270.20" x2="324.66" y2="270.20" stroke="#E6E6E6" stroke-width="0.6"/>
<polyline points="243.00,230.40 246.40,229.60 249.70,227.90 253.00,224.50 256.00,223.30 258.90,224.50 261.00,227.50 263.10,226.20 266.40,227.50 269.80,226.20 273.10,224.10 275.60,223.30 279.00,224.50 282.00,225.10 285.60,225.10 288.60,223.30 291.70,226.30 294.70,226.30 298.30,222.10 301.30,219.10 304.30,217.30 306.80,215.50 309.20,213.70 312.20,216.10 315.20,216.10 318.20,215.50 320.60,214.90 323.50,216.10" fill="none" stroke="#58A4DF" stroke-width="1.05" stroke-linejoin="round"/>
<polyline points="243.00,231.20 248.90,231.60 252.20,230.80 254.70,228.70 258.10,227.90 262.20,230.00 264.80,231.60 271.40,231.20 274.80,230.00 278.10,229.10 282.00,230.00 294.10,231.20 300.10,230.60 303.10,228.80 306.20,230.00 309.20,229.40 311.00,231.80 312.40,239.80 313.80,231.80 315.80,228.20 323.50,227.00" fill="none" stroke="#ED7D31" stroke-width="1.05" stroke-linejoin="round"/>
<polyline points="242.90,245.20 245.40,244.40 247.50,236.20 249.50,245.20 251.90,238.60 254.40,243.50 256.80,246.80 260.90,244.40 264.20,246.80 270.70,245.20 280.60,244.40 287.10,246.00 290.40,245.20 293.60,246.00 300.20,247.30 311.60,247.30 323.50,247.30" fill="none" stroke="#FFC000" stroke-width="1.05" stroke-linejoin="round"/>
<polyline points="243.00,232.60 284.00,232.90 300.10,233.00 309.80,231.20 323.50,232.60" fill="none" stroke="#4472C4" stroke-width="1.05" stroke-linejoin="round"/>
<polyline points="243.00,232.10 284.00,232.10 323.50,232.40" fill="none" stroke="#70AD47" stroke-width="1.05" stroke-linejoin="round"/>
<polyline points="243.00,232.50 246.40,232.50 249.70,231.20 253.00,230.80 255.60,228.30 258.10,227.50 260.60,228.30 263.10,227.00 265.20,230.00 267.30,231.60 282.00,230.60 289.20,229.40 294.10,232.40 297.70,232.40 300.10,227.60 302.50,223.90 304.90,224.50 307.40,223.30 310.40,220.90 312.20,216.70 315.20,221.50 318.20,224.50 321.30,225.70 323.50,224.50" fill="none" stroke="#2868A8" stroke-width="1.05" stroke-linejoin="round"/>
<line x1="352.80" y1="208.10" x2="433.55" y2="208.10" stroke="#F2F2F2" stroke-width="0.6"/>
<line x1="352.80" y1="216.97" x2="433.55" y2="216.97" stroke="#F2F2F2" stroke-width="0.6"/>
<line x1="352.80" y1="225.84" x2="433.55" y2="225.84" stroke="#F2F2F2" stroke-width="0.6"/>
<line x1="352.80" y1="234.71" x2="433.55" y2="234.71" stroke="#F2F2F2" stroke-width="0.6"/>
<line x1="352.80" y1="243.59" x2="433.55" y2="243.59" stroke="#F2F2F2" stroke-width="0.6"/>
<line x1="352.80" y1="252.46" x2="433.55" y2="252.46" stroke="#F2F2F2" stroke-width="0.6"/>
<line x1="352.80" y1="261.33" x2="433.55" y2="261.33" stroke="#F2F2F2" stroke-width="0.6"/>
<line x1="352.80" y1="270.20" x2="433.55" y2="270.20" stroke="#E6E6E6" stroke-width="0.6"/>
<polyline points="354.30,233.90 355.90,237.10 358.60,231.70 361.80,231.20 364.00,233.30 367.20,234.90 369.90,231.70 372.60,228.00 375.80,226.90 379.00,225.80 382.20,224.70 384.40,222.60 387.10,221.50 390.80,222.10 394.00,224.20 395.40,225.50 398.70,222.10 402.10,220.80 404.80,222.10 408.10,218.80 412.10,220.80 415.50,216.80 420.20,214.70 423.50,216.10 427.60,212.10 432.30,208.70" fill="none" stroke="#58A4DF" stroke-width="1.05" stroke-linejoin="round"/>
<polyline points="354.30,238.70 358.60,234.90 362.40,235.50 367.20,237.10 371.50,233.90 376.90,231.20 382.20,229.00 386.50,227.40 390.80,227.40 396.00,227.50 400.10,226.10 412.10,225.50 422.90,224.80 428.20,223.90 432.30,224.80" fill="none" stroke="#ED7D31" stroke-width="1.05" stroke-linejoin="round"/>
<polyline points="354.30,237.10 356.40,239.20 360.70,236.00 364.50,239.20 368.30,238.20 371.50,234.90 374.70,233.90 377.90,231.20 380.10,236.60 382.20,231.20 384.40,230.10 387.10,238.20 388.70,233.90 390.30,239.20 392.00,232.90 395.40,236.20 399.40,230.80 402.70,234.90 405.40,238.90 406.80,235.50 410.80,239.60 414.10,235.50 417.50,239.60 424.20,239.20 432.30,240.20" fill="none" stroke="#FFC000" stroke-width="1.05" stroke-linejoin="round"/>
<polyline points="354.30,237.50 358.60,233.50 367.20,236.50 376.90,230.50 387.60,227.50 396.00,228.50 432.30,228.80" fill="none" stroke="#4472C4" stroke-width="1.05" stroke-linejoin="round"/>
<polyline points="354.30,238.20 358.60,234.40 362.90,234.90 367.20,237.10 371.50,234.40 376.90,231.20 382.20,229.60 387.60,228.00 396.00,228.90 432.30,228.20" fill="none" stroke="#70AD47" stroke-width="1.05" stroke-linejoin="round"/>
<polyline points="354.30,235.50 356.40,237.10 359.70,233.30 363.40,233.90 366.60,235.50 370.40,232.80 374.70,229.00 379.00,226.90 383.30,226.40 387.60,224.20 393.00,225.80 400.10,225.50 408.10,224.80 418.80,224.80 432.30,224.10" fill="none" stroke="#2868A8" stroke-width="1.05" stroke-linejoin="round"/>
<line x1="462.00" y1="208.10" x2="543.88" y2="208.10" stroke="#F2F2F2" stroke-width="0.6"/>
<line x1="462.00" y1="216.97" x2="543.88" y2="216.97" stroke="#F2F2F2" stroke-width="0.6"/>
<line x1="462.00" y1="225.84" x2="543.88" y2="225.84" stroke="#F2F2F2" stroke-width="0.6"/>
<line x1="462.00" y1="234.71" x2="543.88" y2="234.71" stroke="#F2F2F2" stroke-width="0.6"/>
<line x1="462.00" y1="243.59" x2="543.88" y2="243.59" stroke="#F2F2F2" stroke-width="0.6"/>
<line x1="462.00" y1="252.46" x2="543.88" y2="252.46" stroke="#F2F2F2" stroke-width="0.6"/>
<line x1="462.00" y1="261.33" x2="543.88" y2="261.33" stroke="#F2F2F2" stroke-width="0.6"/>
<line x1="462.00" y1="270.20" x2="543.88" y2="270.20" stroke="#E6E6E6" stroke-width="0.6"/>
<polyline points="463.20,231.70 465.40,231.20 467.50,230.10 470.70,229.00 474.00,228.50 477.70,229.60 481.50,229.00 484.70,228.00 487.40,226.40 489.00,229.00 492.20,231.70 495.40,232.80 498.70,231.20 501.90,228.50 505.40,230.20 508.70,228.80 512.70,226.80 517.40,224.10 522.10,224.10 526.80,221.40 530.20,222.10 533.50,217.40 538.20,213.10 541.40,214.70" fill="none" stroke="#58A4DF" stroke-width="1.05" stroke-linejoin="round"/>
<polyline points="463.20,234.40 467.50,232.80 471.80,231.70 476.10,231.20 480.40,232.80 483.60,234.40 485.80,231.70 489.00,232.80 492.20,232.80 496.50,233.90 500.80,232.30 502.00,232.20 507.40,232.90 512.70,230.80 518.10,230.20 523.50,229.50 526.80,232.90 528.80,230.20 534.20,230.80 539.60,231.50 541.40,233.50" fill="none" stroke="#ED7D31" stroke-width="1.05" stroke-linejoin="round"/>
<polyline points="463.20,241.20 464.80,242.80 467.20,246.00 476.00,246.30 492.00,246.30 508.00,246.00 511.20,245.20 514.40,246.30 541.40,246.30" fill="none" stroke="#FFC000" stroke-width="1.05" stroke-linejoin="round"/>
<polyline points="463.20,236.00 480.00,236.00 490.00,235.80 497.60,237.50 506.00,238.20 512.00,236.00 541.40,234.90" fill="none" stroke="#4472C4" stroke-width="1.05" stroke-linejoin="round"/>
<polyline points="463.20,237.20 476.00,236.70 489.60,236.40 491.20,238.80 495.20,237.20 497.60,238.70 503.00,236.60 508.00,238.00 512.80,236.10 524.00,235.60 541.40,235.60" fill="none" stroke="#70AD47" stroke-width="1.05" stroke-linejoin="round"/>
<polyline points="463.20,232.80 466.40,232.30 468.60,234.40 470.20,231.70 472.40,229.00 476.10,229.60 479.30,231.20 483.10,232.80 485.80,231.20 488.50,230.60 490.10,233.30 491.10,239.20 492.20,233.90 495.40,235.50 499.70,233.30 503.00,231.70 506.00,232.20 510.10,230.20 515.40,228.80 520.80,228.20 526.20,228.80 528.80,227.50 534.20,227.50 538.20,226.10 540.30,228.20 541.40,227.50" fill="none" stroke="#2868A8" stroke-width="1.05" stroke-linejoin="round"/>
<line x1="3.60" y1="3.45" x2="8.60" y2="3.45" stroke="#58A4DF" stroke-width="0.9"/>
<line x1="33.20" y1="3.45" x2="38.20" y2="3.45" stroke="#ED7D31" stroke-width="0.9"/>
<line x1="64.10" y1="3.45" x2="69.10" y2="3.45" stroke="#FFC000" stroke-width="0.9"/>
<line x1="95.90" y1="3.45" x2="100.90" y2="3.45" stroke="#4472C4" stroke-width="0.9"/>
<line x1="120.00" y1="3.45" x2="125.00" y2="3.45" stroke="#70AD47" stroke-width="0.9"/>
<line x1="147.30" y1="3.45" x2="152.30" y2="3.45" stroke="#2868A8" stroke-width="0.9"/>
<line x1="0" y1="12.2" x2="550" y2="12.2" stroke="#EEEEEE" stroke-width="0.6"/>
<line x1="0" y1="89.6" x2="550" y2="89.6" stroke="#F5F5F5" stroke-width="0.6"/>
<line x1="0" y1="185.8" x2="550" y2="185.8" stroke="#F5F5F5" stroke-width="0.6"/>
<line x1="0" y1="280.6" x2="550" y2="280.6" stroke="#F5F5F5" stroke-width="0.6"/>
<line x1="219.6" y1="12.2" x2="219.6" y2="280.6" stroke="#F3F3F3" stroke-width="0.6"/>
<line x1="328.7" y1="12.2" x2="328.7" y2="280.6" stroke="#F3F3F3" stroke-width="0.6"/>
</g>
<g filter="url(#bt)">
<text x="18.10" y="18.86" font-size="4.6" text-anchor="end" font-weight="normal" fill="#4d4d4d" stroke="#4d4d4d" stroke-width="0.1">25,000</text>
<text x="18.10" y="26.58" font-size="4.6" text-anchor="end" font-weight="normal" fill="#4d4d4d" stroke="#4d4d4d" stroke-width="0.1">24,000</text>
<text x="18.10" y="34.31" font-size="4.6" text-anchor="end" font-weight="normal" fill="#4d4d4d" stroke="#4d4d4d" stroke-width="0.1">23,000</text>
<text x="18.10" y="42.03" font-size="4.6" text-anchor="end" font-weight="normal" fill="#4d4d4d" stroke="#4d4d4d" stroke-width="0.1">22,000</text>
<text x="18.10" y="49.76" font-size="4.6" text-anchor="end" font-weight="normal" fill="#4d4d4d" stroke="#4d4d4d" stroke-width="0.1">21,000</text>
<text x="18.10" y="57.48" font-size="4.6" text-anchor="end" font-weight="normal" fill="#4d4d4d" stroke="#4d4d4d" stroke-width="0.1">20,000</text>
<text x="18.10" y="65.21" font-size="4.6" text-anchor="end" font-weight="normal" fill="#4d4d4d" stroke="#4d4d4d" stroke-width="0.1">19,000</text>
<text x="18.10" y="72.93" font-size="4.6" text-anchor="end" font-weight="normal" fill="#4d4d4d" stroke="#4d4d4d" stroke-width="0.1">18,000</text>
<text x="18.10" y="80.66" font-size="4.6" text-anchor="end" font-weight="normal" fill="#4d4d4d" stroke="#4d4d4d" stroke-width="0.1">17,000</text>
<text x="24.98" y="86.96" font-size="4.6" text-anchor="middle" font-weight="normal" fill="#4d4d4d" stroke="#4d4d4d" stroke-width="0.1">1</text>
<text x="30.23" y="86.96" font-size="4.6" text-anchor="middle" font-weight="normal" fill="#4d4d4d" stroke="#4d4d4d" stroke-width="0.1">4</text>
<text x="35.48" y="86.96" font-size="4.6" text-anchor="middle" font-weight="normal" fill="#4d4d4d" stroke="#4d4d4d" stroke-width="0.1">7</text>
<text x="40.73" y="86.96" font-size="4.6" text-anchor="middle" font-weight="normal" fill="#4d4d4d" stroke="#4d4d4d" stroke-width="0.1">10</text>
<text x="45.98" y="86.96" font-size="4.6" text-anchor="middle" font-weight="normal" fill="#4d4d4d" stroke="#4d4d4d" stroke-width="0.1">13</text>
<text x="51.23" y="86.96" font-size="4.6" text-anchor="middle" font-weight="normal" fill="#4d4d4d" stroke="#4d4d4d" stroke-width="0.1">16</text>
<text x="56.48" y="86.96" font-size="4.6" text-anchor="middle" font-weight="normal" fill="#4d4d4d" stroke="#4d4d4d" stroke-width="0.1">19</text>
<text x="61.73" y="86.96" font-size="4.6" text-anchor="middle" font-weight="normal" fill="#4d4d4d" stroke="#4d4d4d" stroke-width="0.1">22</text>
<text x="66.97" y="86.96" font-size="4.6" text-anchor="middle" font-weight="normal" fill="#4d4d4d" stroke="#4d4d4d" stroke-width="0.1">25</text>
<text x="72.22" y="86.96" font-size="4.6" text-anchor="middle" font-weight="normal" fill="#4d4d4d" stroke="#4d4d4d" stroke-width="0.1">28</text>
<text x="77.47" y="86.96" font-size="4.6" text-anchor="middle" font-weight="normal" fill="#4d4d4d" stroke="#4d4d4d" stroke-width="0.1">31</text>
<text x="82.72" y="86.96" font-size="4.6" text-anchor="middle" font-weight="normal" fill="#4d4d4d" stroke="#4d4d4d" stroke-width="0.1">34</text>
<text x="87.97" y="86.96" font-size="4.6" text-anchor="middle" font-weight="normal" fill="#4d4d4d" stroke="#4d4d4d" stroke-width="0.1">37</text>
<text x="93.22" y="86.96" font-size="4.6" text-anchor="middle" font-weight="normal" fill="#4d4d4d" stroke="#4d4d4d" stroke-width="0.1">40</text>
<text x="98.47" y="86.96" font-size="4.6" text-anchor="middle" font-weight="normal" fill="#4d4d4d" stroke="#4d4d4d" stroke-width="0.1">43</text>
<text x="103.72" y="86.96" font-size="4.6" text-anchor="middle" font-weight="normal" fill="#4d4d4d" stroke="#4d4d4d" stroke-width="0.1">46</text>
<text transform="translate(56.80,95.89) scale(1,1.15)" font-size="5.3" text-anchor="middle" font-weight="bold" fill="#000" stroke="#000" stroke-width="0.18" textLength="14.2" lengthAdjust="spacingAndGlyphs">N225</text>
<text x="123.90" y="18.86" font-size="4.6" text-anchor="end" font-weight="normal" fill="#4d4d4d" stroke="#4d4d4d" stroke-width="0.1">6200</text>
<text x="123.90" y="34.31" font-size="4.6" text-anchor="end" font-weight="normal" fill="#4d4d4d" stroke="#4d4d4d" stroke-width="0.1">5700</text>
<text x="123.90" y="49.76" font-size="4.6" text-anchor="end" font-weight="normal" fill="#4d4d4d" stroke="#4d4d4d" stroke-width="0.1">5200</text>
<text x="123.90" y="65.21" font-size="4.6" text-anchor="end" font-weight="normal" fill="#4d4d4d" stroke="#4d4d4d" stroke-width="0.1">4700</text>
<text x="123.90" y="80.66" font-size="4.6" text-anchor="end" font-weight="normal" fill="#4d4d4d" stroke="#4d4d4d" stroke-width="0.1">4200</text>
<text x="128.57" y="86.96" font-size="4.6" text-anchor="middle" font-weight="normal" fill="#4d4d4d" stroke="#4d4d4d" stroke-width="0.1">1</text>
<text x="133.82" y="86.96" font-size="4.6" text-anchor="middle" font-weight="normal" fill="#4d4d4d" stroke="#4d4d4d" stroke-width="0.1">4</text>
<text x="139.07" y="86.96" font-size="4.6" text-anchor="middle" font-weight="normal" fill="#4d4d4d" stroke="#4d4d4d" stroke-width="0.1">7</text>
<text x="144.32" y="86.96" font-size="4.6" text-anchor="middle" font-weight="normal" fill="#4d4d4d" stroke="#4d4d4d" stroke-width="0.1">10</text>
<text x="149.57" y="86.96" font-size="4.6" text-anchor="middle" font-weight="normal" fill="#4d4d4d" stroke="#4d4d4d" stroke-width="0.1">13</text>
<text x="154.82" y="86.96" font-size="4.6" text-anchor="middle" font-weight="normal" fill="#4d4d4d" stroke="#4d4d4d" stroke-width="0.1">16</text>
<text x="160.07" y="86.96" font-size="4.6" text-anchor="middle" font-weight="normal" fill="#4d4d4d" stroke="#4d4d4d" stroke-width="0.1">19</text>
<text x="165.32" y="86.96" font-size="4.6" text-anchor="middle" font-weight="normal" fill="#4d4d4d" stroke="#4d4d4d" stroke-width="0.1">22</text>
<text x="170.57" y="86.96" font-size="4.6" text-anchor="middle" font-weight="normal" fill="#4d4d4d" stroke="#4d4d4d" stroke-width="0.1">25</text>
<text x="175.82" y="86.96" font-size="4.6" text-anchor="middle" font-weight="normal" fill="#4d4d4d" stroke="#4d4d4d" stroke-width="0.1">28</text>
<text x="181.07" y="86.96" font-size="4.6" text-anchor="middle" font-weight="normal" fill="#4d4d4d" stroke="#4d4d4d" stroke-width="0.1">31</text>
<text x="186.32" y="86.96" font-size="4.6" text-anchor="middle" font-weight="normal" fill="#4d4d4d" stroke="#4d4d4d" stroke-width="0.1">34</text>
<text x="191.57" y="86.96" font-size="4.6" text-anchor="middle" font-weight="normal" fill="#4d4d4d" stroke="#4d4d4d" stroke-width="0.1">37</text>
<text x="196.82" y="86.96" font-size="4.6" text-anchor="middle" font-weight="normal" fill="#4d4d4d" stroke="#4d4d4d" stroke-width="0.1">40</text>
<text x="202.07" y="86.96" font-size="4.6" text-anchor="middle" font-weight="normal" fill="#4d4d4d" stroke="#4d4d4d" stroke-width="0.1">43</text>
<text x="207.32" y="86.96" font-size="4.6" text-anchor="middle" font-weight="normal" fill="#4d4d4d" stroke="#4d4d4d" stroke-width="0.1">46</text>
<text x="212.57" y="86.96" font-size="4.6" text-anchor="middle" font-weight="normal" fill="#4d4d4d" stroke="#4d4d4d" stroke-width="0.1">49</text>
<text transform="translate(165.90,95.89) scale(1,1.15)" font-size="5.3" text-anchor="middle" font-weight="bold" fill="#000" stroke="#000" stroke-width="0.18" textLength="12.2" lengthAdjust="spacingAndGlyphs">FCHI</text>
<text x="235.80" y="22.66" font-size="4.6" text-anchor="end" font-weight="normal" fill="#4d4d4d" stroke="#4d4d4d" stroke-width="0.1">12,200</text>
<text x="235.80" y="32.32" font-size="4.6" text-anchor="end" font-weight="normal" fill="#4d4d4d" stroke="#4d4d4d" stroke-width="0.1">11,700</text>
<text x="235.80" y="41.99" font-size="4.6" text-anchor="end" font-weight="normal" fill="#4d4d4d" stroke="#4d4d4d" stroke-width="0.1">11,200</text>
<text x="235.80" y="51.66" font-size="4.6" text-anchor="end" font-weight="normal" fill="#4d4d4d" stroke="#4d4d4d" stroke-width="0.1">10,700</text>
<text x="235.80" y="61.32" font-size="4.6" text-anchor="end" font-weight="normal" fill="#4d4d4d" stroke="#4d4d4d" stroke-width="0.1">10,200</text>
<text x="235.80" y="70.99" font-size="4.6" text-anchor="end" font-weight="normal" fill="#4d4d4d" stroke="#4d4d4d" stroke-width="0.1">9 700</text>
<text x="235.80" y="80.66" font-size="4.6" text-anchor="end" font-weight="normal" fill="#4d4d4d" stroke="#4d4d4d" stroke-width="0.1">9 200</text>
<text x="242.66" y="86.96" font-size="4.6" text-anchor="middle" font-weight="normal" fill="#4d4d4d" stroke="#4d4d4d" stroke-width="0.1">1</text>
<text x="249.59" y="86.96" font-size="4.6" text-anchor="middle" font-weight="normal" fill="#4d4d4d" stroke="#4d4d4d" stroke-width="0.1">4</text>
<text x="256.51" y="86.96" font-size="4.6" text-anchor="middle" font-weight="normal" fill="#4d4d4d" stroke="#4d4d4d" stroke-width="0.1">7</text>
<text x="263.44" y="86.96" font-size="4.6" text-anchor="middle" font-weight="normal" fill="#4d4d4d" stroke="#4d4d4d" stroke-width="0.1">10</text>
<text x="270.38" y="86.96" font-size="4.6" text-anchor="middle" font-weight="normal" fill="#4d4d4d" stroke="#4d4d4d" stroke-width="0.1">13</text>
<text x="277.31" y="86.96" font-size="4.6" text-anchor="middle" font-weight="normal" fill="#4d4d4d" stroke="#4d4d4d" stroke-width="0.1">16</text>
<text x="284.24" y="86.96" font-size="4.6" text-anchor="middle" font-weight="normal" fill="#4d4d4d" stroke="#4d4d4d" stroke-width="0.1">19</text>
<text x="291.17" y="86.96" font-size="4.6" text-anchor="middle" font-weight="normal" fill="#4d4d4d" stroke="#4d4d4d" stroke-width="0.1">22</text>
<text x="298.10" y="86.96" font-size="4.6" text-anchor="middle" font-weight="normal" fill="#4d4d4d" stroke="#4d4d4d" stroke-width="0.1">25</text>
<text x="305.02" y="86.96" font-size="4.6" text-anchor="middle" font-weight="normal" fill="#4d4d4d" stroke="#4d4d4d" stroke-width="0.1">28</text>
<text x="311.95" y="86.96" font-size="4.6" text-anchor="middle" font-weight="normal" fill="#4d4d4d" stroke="#4d4d4d" stroke-width="0.1">31</text>
<text x="318.88" y="86.96" font-size="4.6" text-anchor="middle" font-weight="normal" fill="#4d4d4d" stroke="#4d4d4d" stroke-width="0.1">34</text>
<text transform="translate(275.00,95.89) scale(1,1.15)" font-size="5.3" text-anchor="middle" font-weight="bold" fill="#000" stroke="#000" stroke-width="0.18" textLength="12.1" lengthAdjust="spacingAndGlyphs">TWII</text>
<text x="347.10" y="18.86" font-size="4.6" text-anchor="end" font-weight="normal" fill="#4d4d4d" stroke="#4d4d4d" stroke-width="0.1">115,000</text>
<text x="347.10" y="27.68" font-size="4.6" text-anchor="end" font-weight="normal" fill="#4d4d4d" stroke="#4d4d4d" stroke-width="0.1">110,000</text>
<text x="347.10" y="36.51" font-size="4.6" text-anchor="end" font-weight="normal" fill="#4d4d4d" stroke="#4d4d4d" stroke-width="0.1">105,000</text>
<text x="347.10" y="45.34" font-size="4.6" text-anchor="end" font-weight="normal" fill="#4d4d4d" stroke="#4d4d4d" stroke-width="0.1">100,000</text>
<text x="347.10" y="54.17" font-size="4.6" text-anchor="end" font-weight="normal" fill="#4d4d4d" stroke="#4d4d4d" stroke-width="0.1">95,000</text>
<text x="347.10" y="63.00" font-size="4.6" text-anchor="end" font-weight="normal" fill="#4d4d4d" stroke="#4d4d4d" stroke-width="0.1">90,000</text>
<text x="347.10" y="71.83" font-size="4.6" text-anchor="end" font-weight="normal" fill="#4d4d4d" stroke="#4d4d4d" stroke-width="0.1">85,000</text>
<text x="347.10" y="80.66" font-size="4.6" text-anchor="end" font-weight="normal" fill="#4d4d4d" stroke="#4d4d4d" stroke-width="0.1">80,000</text>
<text x="353.62" y="86.96" font-size="4.6" text-anchor="middle" font-weight="normal" fill="#4d4d4d" stroke="#4d4d4d" stroke-width="0.1">1</text>
<text x="360.22" y="86.96" font-size="4.6" text-anchor="middle" font-weight="normal" fill="#4d4d4d" stroke="#4d4d4d" stroke-width="0.1">5</text>
<text x="366.81" y="86.96" font-size="4.6" text-anchor="middle" font-weight="normal" fill="#4d4d4d" stroke="#4d4d4d" stroke-width="0.1">9</text>
<text x="373.40" y="86.96" font-size="4.6" text-anchor="middle" font-weight="normal" fill="#4d4d4d" stroke="#4d4d4d" stroke-width="0.1">13</text>
<text x="379.99" y="86.96" font-size="4.6" text-anchor="middle" font-weight="normal" fill="#4d4d4d" stroke="#4d4d4d" stroke-width="0.1">17</text>
<text x="386.58" y="86.96" font-size="4.6" text-anchor="middle" font-weight="normal" fill="#4d4d4d" stroke="#4d4d4d" stroke-width="0.1">21</text>
<text x="393.18" y="86.96" font-size="4.6" text-anchor="middle" font-weight="normal" fill="#4d4d4d" stroke="#4d4d4d" stroke-width="0.1">25</text>
<text x="399.77" y="86.96" font-size="4.6" text-anchor="middle" font-weight="normal" fill="#4d4d4d" stroke="#4d4d4d" stroke-width="0.1">29</text>
<text x="406.36" y="86.96" font-size="4.6" text-anchor="middle" font-weight="normal" fill="#4d4d4d" stroke="#4d4d4d" stroke-width="0.1">33</text>
<text x="412.95" y="86.96" font-size="4.6" text-anchor="middle" font-weight="normal" fill="#4d4d4d" stroke="#4d4d4d" stroke-width="0.1">37</text>
<text x="419.54" y="86.96" font-size="4.6" text-anchor="middle" font-weight="normal" fill="#4d4d4d" stroke="#4d4d4d" stroke-width="0.1">41</text>
<text x="426.14" y="86.96" font-size="4.6" text-anchor="middle" font-weight="normal" fill="#4d4d4d" stroke="#4d4d4d" stroke-width="0.1">45</text>
<text x="432.73" y="86.96" font-size="4.6" text-anchor="middle" font-weight="normal" fill="#4d4d4d" stroke="#4d4d4d" stroke-width="0.1">49</text>
<text transform="translate(383.50,95.89) scale(1,1.15)" font-size="5.3" text-anchor="middle" font-weight="bold" fill="#000" stroke="#000" stroke-width="0.18" textLength="21.9" lengthAdjust="spacingAndGlyphs">XU100.IS</text>
<text x="456.50" y="18.86" font-size="4.6" text-anchor="end" font-weight="normal" fill="#4d4d4d" stroke="#4d4d4d" stroke-width="0.1">120,000</text>
<text x="456.50" y="27.68" font-size="4.6" text-anchor="end" font-weight="normal" fill="#4d4d4d" stroke="#4d4d4d" stroke-width="0.1">115,000</text>
<text x="456.50" y="36.51" font-size="4.6" text-anchor="end" font-weight="normal" fill="#4d4d4d" stroke="#4d4d4d" stroke-width="0.1">110,000</text>
<text x="456.50" y="45.34" font-size="4.6" text-anchor="end" font-weight="normal" fill="#4d4d4d" stroke="#4d4d4d" stroke-width="0.1">105,000</text>
<text x="456.50" y="54.17" font-size="4.6" text-anchor="end" font-weight="normal" fill="#4d4d4d" stroke="#4d4d4d" stroke-width="0.1">100,000</text>
<text x="456.50" y="63.00" font-size="4.6" text-anchor="end" font-weight="normal" fill="#4d4d4d" stroke="#4d4d4d" stroke-width="0.1">95,000</text>
<text x="456.50" y="71.83" font-size="4.6" text-anchor="end" font-weight="normal" fill="#4d4d4d" stroke="#4d4d4d" stroke-width="0.1">90,000</text>
<text x="456.50" y="80.66" font-size="4.6" text-anchor="end" font-weight="normal" fill="#4d4d4d" stroke="#4d4d4d" stroke-width="0.1">85,000</text>
<text x="462.82" y="86.96" font-size="4.6" text-anchor="middle" font-weight="normal" fill="#4d4d4d" stroke="#4d4d4d" stroke-width="0.1">1</text>
<text x="469.37" y="86.96" font-size="4.6" text-anchor="middle" font-weight="normal" fill="#4d4d4d" stroke="#4d4d4d" stroke-width="0.1">5</text>
<text x="475.92" y="86.96" font-size="4.6" text-anchor="middle" font-weight="normal" fill="#4d4d4d" stroke="#4d4d4d" stroke-width="0.1">9</text>
<text x="482.47" y="86.96" font-size="4.6" text-anchor="middle" font-weight="normal" fill="#4d4d4d" stroke="#4d4d4d" stroke-width="0.1">13</text>
<text x="489.02" y="86.96" font-size="4.6" text-anchor="middle" font-weight="normal" fill="#4d4d4d" stroke="#4d4d4d" stroke-width="0.1">17</text>
<text x="495.57" y="86.96" font-size="4.6" text-anchor="middle" font-weight="normal" fill="#4d4d4d" stroke="#4d4d4d" stroke-width="0.1">21</text>
<text x="502.12" y="86.96" font-size="4.6" text-anchor="middle" font-weight="normal" fill="#4d4d4d" stroke="#4d4d4d" stroke-width="0.1">25</text>
<text x="508.67" y="86.96" font-size="4.6" text-anchor="middle" font-weight="normal" fill="#4d4d4d" stroke="#4d4d4d" stroke-width="0.1">29</text>
<text x="515.22" y="86.96" font-size="4.6" text-anchor="middle" font-weight="normal" fill="#4d4d4d" stroke="#4d4d4d" stroke-width="0.1">33</text>
<text x="521.77" y="86.96" font-size="4.6" text-anchor="middle" font-weight="normal" fill="#4d4d4d" stroke="#4d4d4d" stroke-width="0.1">37</text>
<text x="528.32" y="86.96" font-size="4.6" text-anchor="middle" font-weight="normal" fill="#4d4d4d" stroke="#4d4d4d" stroke-width="0.1">41</text>
<text x="534.87" y="86.96" font-size="4.6" text-anchor="middle" font-weight="normal" fill="#4d4d4d" stroke="#4d4d4d" stroke-width="0.1">45</text>
<text x="541.42" y="86.96" font-size="4.6" text-anchor="middle" font-weight="normal" fill="#4d4d4d" stroke="#4d4d4d" stroke-width="0.1">49</text>
<text transform="translate(492.50,95.89) scale(1,1.15)" font-size="5.3" text-anchor="middle" font-weight="bold" fill="#000" stroke="#000" stroke-width="0.18" textLength="12.6" lengthAdjust="spacingAndGlyphs">BVSP</text>
<text x="18.10" y="114.26" font-size="4.6" text-anchor="end" font-weight="normal" fill="#4d4d4d" stroke="#4d4d4d" stroke-width="0.1">24,500</text>
<text x="18.10" y="120.47" font-size="4.6" text-anchor="end" font-weight="normal" fill="#4d4d4d" stroke="#4d4d4d" stroke-width="0.1">24,000</text>
<text x="18.10" y="126.68" font-size="4.6" text-anchor="end" font-weight="normal" fill="#4d4d4d" stroke="#4d4d4d" stroke-width="0.1">23,500</text>
<text x="18.10" y="132.89" font-size="4.6" text-anchor="end" font-weight="normal" fill="#4d4d4d" stroke="#4d4d4d" stroke-width="0.1">23,000</text>
<text x="18.10" y="139.10" font-size="4.6" text-anchor="end" font-weight="normal" fill="#4d4d4d" stroke="#4d4d4d" stroke-width="0.1">22,500</text>
<text x="18.10" y="145.31" font-size="4.6" text-anchor="end" font-weight="normal" fill="#4d4d4d" stroke="#4d4d4d" stroke-width="0.1">22,000</text>
<text x="18.10" y="151.52" font-size="4.6" text-anchor="end" font-weight="normal" fill="#4d4d4d" stroke="#4d4d4d" stroke-width="0.1">21,500</text>
<text x="18.10" y="157.73" font-size="4.6" text-anchor="end" font-weight="normal" fill="#4d4d4d" stroke="#4d4d4d" stroke-width="0.1">21,000</text>
<text x="18.10" y="163.94" font-size="4.6" text-anchor="end" font-weight="normal" fill="#4d4d4d" stroke="#4d4d4d" stroke-width="0.1">20,500</text>
<text x="18.10" y="170.15" font-size="4.6" text-anchor="end" font-weight="normal" fill="#4d4d4d" stroke="#4d4d4d" stroke-width="0.1">20,000</text>
<text x="18.10" y="176.36" font-size="4.6" text-anchor="end" font-weight="normal" fill="#4d4d4d" stroke="#4d4d4d" stroke-width="0.1">19,500</text>
<text x="24.98" y="182.56" font-size="4.6" text-anchor="middle" font-weight="normal" fill="#4d4d4d" stroke="#4d4d4d" stroke-width="0.1">1</text>
<text x="30.23" y="182.56" font-size="4.6" text-anchor="middle" font-weight="normal" fill="#4d4d4d" stroke="#4d4d4d" stroke-width="0.1">4</text>
<text x="35.48" y="182.56" font-size="4.6" text-anchor="middle" font-weight="normal" fill="#4d4d4d" stroke="#4d4d4d" stroke-width="0.1">7</text>
<text x="40.73" y="182.56" font-size="4.6" text-anchor="middle" font-weight="normal" fill="#4d4d4d" stroke="#4d4d4d" stroke-width="0.1">10</text>
<text x="45.98" y="182.56" font-size="4.6" text-anchor="middle" font-weight="normal" fill="#4d4d4d" stroke="#4d4d4d" stroke-width="0.1">13</text>
<text x="51.23" y="182.56" font-size="4.6" text-anchor="middle" font-weight="normal" fill="#4d4d4d" stroke="#4d4d4d" stroke-width="0.1">16</text>
<text x="56.48" y="182.56" font-size="4.6" text-anchor="middle" font-weight="normal" fill="#4d4d4d" stroke="#4d4d4d" stroke-width="0.1">19</text>
<text x="61.73" y="182.56" font-size="4.6" text-anchor="middle" font-weight="normal" fill="#4d4d4d" stroke="#4d4d4d" stroke-width="0.1">22</text>
<text x="66.97" y="182.56" font-size="4.6" text-anchor="middle" font-weight="normal" fill="#4d4d4d" stroke="#4d4d4d" stroke-width="0.1">25</text>
<text x="72.22" y="182.56" font-size="4.6" text-anchor="middle" font-weight="normal" fill="#4d4d4d" stroke="#4d4d4d" stroke-width="0.1">28</text>
<text x="77.47" y="182.56" font-size="4.6" text-anchor="middle" font-weight="normal" fill="#4d4d4d" stroke="#4d4d4d" stroke-width="0.1">31</text>
<text x="82.72" y="182.56" font-size="4.6" text-anchor="middle" font-weight="normal" fill="#4d4d4d" stroke="#4d4d4d" stroke-width="0.1">34</text>
<text x="87.97" y="182.56" font-size="4.6" text-anchor="middle" font-weight="normal" fill="#4d4d4d" stroke="#4d4d4d" stroke-width="0.1">37</text>
<text x="93.22" y="182.56" font-size="4.6" text-anchor="middle" font-weight="normal" fill="#4d4d4d" stroke="#4d4d4d" stroke-width="0.1">40</text>
<text x="98.47" y="182.56" font-size="4.6" text-anchor="middle" font-weight="normal" fill="#4d4d4d" stroke="#4d4d4d" stroke-width="0.1">43</text>
<text x="103.72" y="182.56" font-size="4.6" text-anchor="middle" font-weight="normal" fill="#4d4d4d" stroke="#4d4d4d" stroke-width="0.1">46</text>
<text transform="translate(56.80,191.19) scale(1,1.15)" font-size="5.3" text-anchor="middle" font-weight="bold" fill="#000" stroke="#000" stroke-width="0.18" textLength="14.2" lengthAdjust="spacingAndGlyphs">N225</text>
<text x="123.90" y="114.26" font-size="4.6" text-anchor="end" font-weight="normal" fill="#4d4d4d" stroke="#4d4d4d" stroke-width="0.1">6200</text>
<text x="123.90" y="129.78" font-size="4.6" text-anchor="end" font-weight="normal" fill="#4d4d4d" stroke="#4d4d4d" stroke-width="0.1">5700</text>
<text x="123.90" y="145.31" font-size="4.6" text-anchor="end" font-weight="normal" fill="#4d4d4d" stroke="#4d4d4d" stroke-width="0.1">5200</text>
<text x="123.90" y="160.83" font-size="4.6" text-anchor="end" font-weight="normal" fill="#4d4d4d" stroke="#4d4d4d" stroke-width="0.1">4700</text>
<text x="123.90" y="176.36" font-size="4.6" text-anchor="end" font-weight="normal" fill="#4d4d4d" stroke="#4d4d4d" stroke-width="0.1">4200</text>
<text x="128.57" y="182.56" font-size="4.6" text-anchor="middle" font-weight="normal" fill="#4d4d4d" stroke="#4d4d4d" stroke-width="0.1">1</text>
<text x="133.82" y="182.56" font-size="4.6" text-anchor="middle" font-weight="normal" fill="#4d4d4d" stroke="#4d4d4d" stroke-width="0.1">4</text>
<text x="139.07" y="182.56" font-size="4.6" text-anchor="middle" font-weight="normal" fill="#4d4d4d" stroke="#4d4d4d" stroke-width="0.1">7</text>
<text x="144.32" y="182.56" font-size="4.6" text-anchor="middle" font-weight="normal" fill="#4d4d4d" stroke="#4d4d4d" stroke-width="0.1">10</text>
<text x="149.57" y="182.56" font-size="4.6" text-anchor="middle" font-weight="normal" fill="#4d4d4d" stroke="#4d4d4d" stroke-width="0.1">13</text>
<text x="154.82" y="182.56" font-size="4.6" text-anchor="middle" font-weight="normal" fill="#4d4d4d" stroke="#4d4d4d" stroke-width="0.1">16</text>
<text x="160.07" y="182.56" font-size="4.6" text-anchor="middle" font-weight="normal" fill="#4d4d4d" stroke="#4d4d4d" stroke-width="0.1">19</text>
<text x="165.32" y="182.56" font-size="4.6" text-anchor="middle" font-weight="normal" fill="#4d4d4d" stroke="#4d4d4d" stroke-width="0.1">22</text>
<text x="170.57" y="182.56" font-size="4.6" text-anchor="middle" font-weight="normal" fill="#4d4d4d" stroke="#4d4d4d" stroke-width="0.1">25</text>
<text x="175.82" y="182.56" font-size="4.6" text-anchor="middle" font-weight="normal" fill="#4d4d4d" stroke="#4d4d4d" stroke-width="0.1">28</text>
<text x="181.07" y="182.56" font-size="4.6" text-anchor="middle" font-weight="normal" fill="#4d4d4d" stroke="#4d4d4d" stroke-width="0.1">31</text>
<text x="186.32" y="182.56" font-size="4.6" text-anchor="middle" font-weight="normal" fill="#4d4d4d" stroke="#4d4d4d" stroke-width="0.1">34</text>
<text x="191.57" y="182.56" font-size="4.6" text-anchor="middle" font-weight="normal" fill="#4d4d4d" stroke="#4d4d4d" stroke-width="0.1">37</text>
<text x="196.82" y="182.56" font-size="4.6" text-anchor="middle" font-weight="normal" fill="#4d4d4d" stroke="#4d4d4d" stroke-width="0.1">40</text>
<text x="202.07" y="182.56" font-size="4.6" text-anchor="middle" font-weight="normal" fill="#4d4d4d" stroke="#4d4d4d" stroke-width="0.1">43</text>
<text x="207.32" y="182.56" font-size="4.6" text-anchor="middle" font-weight="normal" fill="#4d4d4d" stroke="#4d4d4d" stroke-width="0.1">46</text>
<text x="212.57" y="182.56" font-size="4.6" text-anchor="middle" font-weight="normal" fill="#4d4d4d" stroke="#4d4d4d" stroke-width="0.1">49</text>
<text transform="translate(165.90,191.19) scale(1,1.15)" font-size="5.3" text-anchor="middle" font-weight="bold" fill="#000" stroke="#000" stroke-width="0.18" textLength="12.2" lengthAdjust="spacingAndGlyphs">FCHI</text>
<text x="235.80" y="118.26" font-size="4.6" text-anchor="end" font-weight="normal" fill="#4d4d4d" stroke="#4d4d4d" stroke-width="0.1">12,200</text>
<text x="235.80" y="127.94" font-size="4.6" text-anchor="end" font-weight="normal" fill="#4d4d4d" stroke="#4d4d4d" stroke-width="0.1">11,700</text>
<text x="235.80" y="137.62" font-size="4.6" text-anchor="end" font-weight="normal" fill="#4d4d4d" stroke="#4d4d4d" stroke-width="0.1">11,200</text>
<text x="235.80" y="147.31" font-size="4.6" text-anchor="end" font-weight="normal" fill="#4d4d4d" stroke="#4d4d4d" stroke-width="0.1">10,700</text>
<text x="235.80" y="156.99" font-size="4.6" text-anchor="end" font-weight="normal" fill="#4d4d4d" stroke="#4d4d4d" stroke-width="0.1">10,200</text>
<text x="235.80" y="166.67" font-size="4.6" text-anchor="end" font-weight="normal" fill="#4d4d4d" stroke="#4d4d4d" stroke-width="0.1">9 700</text>
<text x="235.80" y="176.36" font-size="4.6" text-anchor="end" font-weight="normal" fill="#4d4d4d" stroke="#4d4d4d" stroke-width="0.1">9 200</text>
<text x="242.66" y="182.56" font-size="4.6" text-anchor="middle" font-weight="normal" fill="#4d4d4d" stroke="#4d4d4d" stroke-width="0.1">1</text>
<text x="249.59" y="182.56" font-size="4.6" text-anchor="middle" font-weight="normal" fill="#4d4d4d" stroke="#4d4d4d" stroke-width="0.1">4</text>
<text x="256.51" y="182.56" font-size="4.6" text-anchor="middle" font-weight="normal" fill="#4d4d4d" stroke="#4d4d4d" stroke-width="0.1">7</text>
<text x="263.44" y="182.56" font-size="4.6" text-anchor="middle" font-weight="normal" fill="#4d4d4d" stroke="#4d4d4d" stroke-width="0.1">10</text>
<text x="270.38" y="182.56" font-size="4.6" text-anchor="middle" font-weight="normal" fill="#4d4d4d" stroke="#4d4d4d" stroke-width="0.1">13</text>
<text x="277.31" y="182.56" font-size="4.6" text-anchor="middle" font-weight="normal" fill="#4d4d4d" stroke="#4d4d4d" stroke-width="0.1">16</text>
<text x="284.24" y="182.56" font-size="4.6" text-anchor="middle" font-weight="normal" fill="#4d4d4d" stroke="#4d4d4d" stroke-width="0.1">19</text>
<text x="291.17" y="182.56" font-size="4.6" text-anchor="middle" font-weight="normal" fill="#4d4d4d" stroke="#4d4d4d" stroke-width="0.1">22</text>
<text x="298.10" y="182.56" font-size="4.6" text-anchor="middle" font-weight="normal" fill="#4d4d4d" stroke="#4d4d4d" stroke-width="0.1">25</text>
<text x="305.02" y="182.56" font-size="4.6" text-anchor="middle" font-weight="normal" fill="#4d4d4d" stroke="#4d4d4d" stroke-width="0.1">28</text>
<text x="311.95" y="182.56" font-size="4.6" text-anchor="middle" font-weight="normal" fill="#4d4d4d" stroke="#4d4d4d" stroke-width="0.1">31</text>
<text x="318.88" y="182.56" font-size="4.6" text-anchor="middle" font-weight="normal" fill="#4d4d4d" stroke="#4d4d4d" stroke-width="0.1">34</text>
<text transform="translate(275.00,191.19) scale(1,1.15)" font-size="5.3" text-anchor="middle" font-weight="bold" fill="#000" stroke="#000" stroke-width="0.18" textLength="12.1" lengthAdjust="spacingAndGlyphs">TWII</text>
<text x="347.10" y="114.26" font-size="4.6" text-anchor="end" font-weight="normal" fill="#4d4d4d" stroke="#4d4d4d" stroke-width="0.1">115,000</text>
<text x="347.10" y="123.13" font-size="4.6" text-anchor="end" font-weight="normal" fill="#4d4d4d" stroke="#4d4d4d" stroke-width="0.1">110,000</text>
<text x="347.10" y="132.00" font-size="4.6" text-anchor="end" font-weight="normal" fill="#4d4d4d" stroke="#4d4d4d" stroke-width="0.1">105,000</text>
<text x="347.10" y="140.87" font-size="4.6" text-anchor="end" font-weight="normal" fill="#4d4d4d" stroke="#4d4d4d" stroke-width="0.1">100,000</text>
<text x="347.10" y="149.74" font-size="4.6" text-anchor="end" font-weight="normal" fill="#4d4d4d" stroke="#4d4d4d" stroke-width="0.1">95,000</text>
<text x="347.10" y="158.61" font-size="4.6" text-anchor="end" font-weight="normal" fill="#4d4d4d" stroke="#4d4d4d" stroke-width="0.1">90,000</text>
<text x="347.10" y="167.48" font-size="4.6" text-anchor="end" font-weight="normal" fill="#4d4d4d" stroke="#4d4d4d" stroke-width="0.1">85,000</text>
<text x="347.10" y="176.36" font-size="4.6" text-anchor="end" font-weight="normal" fill="#4d4d4d" stroke="#4d4d4d" stroke-width="0.1">80,000</text>
<text x="353.62" y="182.56" font-size="4.6" text-anchor="middle" font-weight="normal" fill="#4d4d4d" stroke="#4d4d4d" stroke-width="0.1">1</text>
<text x="360.22" y="182.56" font-size="4.6" text-anchor="middle" font-weight="normal" fill="#4d4d4d" stroke="#4d4d4d" stroke-width="0.1">5</text>
<text x="366.81" y="182.56" font-size="4.6" text-anchor="middle" font-weight="normal" fill="#4d4d4d" stroke="#4d4d4d" stroke-width="0.1">9</text>
<text x="373.40" y="182.56" font-size="4.6" text-anchor="middle" font-weight="normal" fill="#4d4d4d" stroke="#4d4d4d" stroke-width="0.1">13</text>
<text x="379.99" y="182.56" font-size="4.6" text-anchor="middle" font-weight="normal" fill="#4d4d4d" stroke="#4d4d4d" stroke-width="0.1">17</text>
<text x="386.58" y="182.56" font-size="4.6" text-anchor="middle" font-weight="normal" fill="#4d4d4d" stroke="#4d4d4d" stroke-width="0.1">21</text>
<text x="393.18" y="182.56" font-size="4.6" text-anchor="middle" font-weight="normal" fill="#4d4d4d" stroke="#4d4d4d" stroke-width="0.1">25</text>
<text x="399.77" y="182.56" font-size="4.6" text-anchor="middle" font-weight="normal" fill="#4d4d4d" stroke="#4d4d4d" stroke-width="0.1">29</text>
<text x="406.36" y="182.56" font-size="4.6" text-anchor="middle" font-weight="normal" fill="#4d4d4d" stroke="#4d4d4d" stroke-width="0.1">33</text>
<text x="412.95" y="182.56" font-size="4.6" text-anchor="middle" font-weight="normal" fill="#4d4d4d" stroke="#4d4d4d" stroke-width="0.1">37</text>
<text x="419.54" y="182.56" font-size="4.6" text-anchor="middle" font-weight="normal" fill="#4d4d4d" stroke="#4d4d4d" stroke-width="0.1">41</text>
<text x="426.14" y="182.56" font-size="4.6" text-anchor="middle" font-weight="normal" fill="#4d4d4d" stroke="#4d4d4d" stroke-width="0.1">45</text>
<text x="432.73" y="182.56" font-size="4.6" text-anchor="middle" font-weight="normal" fill="#4d4d4d" stroke="#4d4d4d" stroke-width="0.1">49</text>
<text transform="translate(383.50,191.19) scale(1,1.15)" font-size="5.3" text-anchor="middle" font-weight="bold" fill="#000" stroke="#000" stroke-width="0.18" textLength="21.9" lengthAdjust="spacingAndGlyphs">XU100.IS</text>
<text x="456.50" y="114.26" font-size="4.6" text-anchor="end" font-weight="normal" fill="#4d4d4d" stroke="#4d4d4d" stroke-width="0.1">120,000</text>
<text x="456.50" y="123.13" font-size="4.6" text-anchor="end" font-weight="normal" fill="#4d4d4d" stroke="#4d4d4d" stroke-width="0.1">115,000</text>
<text x="456.50" y="132.00" font-size="4.6" text-anchor="end" font-weight="normal" fill="#4d4d4d" stroke="#4d4d4d" stroke-width="0.1">110,000</text>
<text x="456.50" y="140.87" font-size="4.6" text-anchor="end" font-weight="normal" fill="#4d4d4d" stroke="#4d4d4d" stroke-width="0.1">105,000</text>
<text x="456.50" y="149.74" font-size="4.6" text-anchor="end" font-weight="normal" fill="#4d4d4d" stroke="#4d4d4d" stroke-width="0.1">100,000</text>
<text x="456.50" y="158.61" font-size="4.6" text-anchor="end" font-weight="normal" fill="#4d4d4d" stroke="#4d4d4d" stroke-width="0.1">95,000</text>
<text x="456.50" y="167.48" font-size="4.6" text-anchor="end" font-weight="normal" fill="#4d4d4d" stroke="#4d4d4d" stroke-width="0.1">90,000</text>
<text x="456.50" y="176.36" font-size="4.6" text-anchor="end" font-weight="normal" fill="#4d4d4d" stroke="#4d4d4d" stroke-width="0.1">85,000</text>
<text x="462.82" y="182.56" font-size="4.6" text-anchor="middle" font-weight="normal" fill="#4d4d4d" stroke="#4d4d4d" stroke-width="0.1">1</text>
<text x="469.37" y="182.56" font-size="4.6" text-anchor="middle" font-weight="normal" fill="#4d4d4d" stroke="#4d4d4d" stroke-width="0.1">5</text>
<text x="475.92" y="182.56" font-size="4.6" text-anchor="middle" font-weight="normal" fill="#4d4d4d" stroke="#4d4d4d" stroke-width="0.1">9</text>
<text x="482.47" y="182.56" font-size="4.6" text-anchor="middle" font-weight="normal" fill="#4d4d4d" stroke="#4d4d4d" stroke-width="0.1">13</text>
<text x="489.02" y="182.56" font-size="4.6" text-anchor="middle" font-weight="normal" fill="#4d4d4d" stroke="#4d4d4d" stroke-width="0.1">17</text>
<text x="495.57" y="182.56" font-size="4.6" text-anchor="middle" font-weight="normal" fill="#4d4d4d" stroke="#4d4d4d" stroke-width="0.1">21</text>
<text x="502.12" y="182.56" font-size="4.6" text-anchor="middle" font-weight="normal" fill="#4d4d4d" stroke="#4d4d4d" stroke-width="0.1">25</text>
<text x="508.67" y="182.56" font-size="4.6" text-anchor="middle" font-weight="normal" fill="#4d4d4d" stroke="#4d4d4d" stroke-width="0.1">29</text>
<text x="515.22" y="182.56" font-size="4.6" text-anchor="middle" font-weight="normal" fill="#4d4d4d" stroke="#4d4d4d" stroke-width="0.1">33</text>
<text x="521.77" y="182.56" font-size="4.6" text-anchor="middle" font-weight="normal" fill="#4d4d4d" stroke="#4d4d4d" stroke-width="0.1">37</text>
<text x="528.32" y="182.56" font-size="4.6" text-anchor="middle" font-weight="normal" fill="#4d4d4d" stroke="#4d4d4d" stroke-width="0.1">41</text>
<text x="534.87" y="182.56" font-size="4.6" text-anchor="middle" font-weight="normal" fill="#4d4d4d" stroke="#4d4d4d" stroke-width="0.1">45</text>
<text x="541.42" y="182.56" font-size="4.6" text-anchor="middle" font-weight="normal" fill="#4d4d4d" stroke="#4d4d4d" stroke-width="0.1">49</text>
<text transform="translate(492.50,191.19) scale(1,1.15)" font-size="5.3" text-anchor="middle" font-weight="bold" fill="#000" stroke="#000" stroke-width="0.18" textLength="12.6" lengthAdjust="spacingAndGlyphs">BVSP</text>
<text x="18.10" y="209.86" font-size="4.6" text-anchor="end" font-weight="normal" fill="#4d4d4d" stroke="#4d4d4d" stroke-width="0.1">24,500</text>
<text x="18.10" y="216.07" font-size="4.6" text-anchor="end" font-weight="normal" fill="#4d4d4d" stroke="#4d4d4d" stroke-width="0.1">24,000</text>
<text x="18.10" y="222.28" font-size="4.6" text-anchor="end" font-weight="normal" fill="#4d4d4d" stroke="#4d4d4d" stroke-width="0.1">23,500</text>
<text x="18.10" y="228.49" font-size="4.6" text-anchor="end" font-weight="normal" fill="#4d4d4d" stroke="#4d4d4d" stroke-width="0.1">23,000</text>
<text x="18.10" y="234.70" font-size="4.6" text-anchor="end" font-weight="normal" fill="#4d4d4d" stroke="#4d4d4d" stroke-width="0.1">22,500</text>
<text x="18.10" y="240.91" font-size="4.6" text-anchor="end" font-weight="normal" fill="#4d4d4d" stroke="#4d4d4d" stroke-width="0.1">22,000</text>
<text x="18.10" y="247.12" font-size="4.6" text-anchor="end" font-weight="normal" fill="#4d4d4d" stroke="#4d4d4d" stroke-width="0.1">21,500</text>
<text x="18.10" y="253.33" font-size="4.6" text-anchor="end" font-weight="normal" fill="#4d4d4d" stroke="#4d4d4d" stroke-width="0.1">21,000</text>
<text x="18.10" y="259.54" font-size="4.6" text-anchor="end" font-weight="normal" fill="#4d4d4d" stroke="#4d4d4d" stroke-width="0.1">20,500</text>
<text x="18.10" y="265.75" font-size="4.6" text-anchor="end" font-weight="normal" fill="#4d4d4d" stroke="#4d4d4d" stroke-width="0.1">20,000</text>
<text x="18.10" y="271.96" font-size="4.6" text-anchor="end" font-weight="normal" fill="#4d4d4d" stroke="#4d4d4d" stroke-width="0.1">19,500</text>
<text x="24.98" y="278.26" font-size="4.6" text-anchor="middle" font-weight="normal" fill="#4d4d4d" stroke="#4d4d4d" stroke-width="0.1">1</text>
<text x="30.23" y="278.26" font-size="4.6" text-anchor="middle" font-weight="normal" fill="#4d4d4d" stroke="#4d4d4d" stroke-width="0.1">4</text>
<text x="35.48" y="278.26" font-size="4.6" text-anchor="middle" font-weight="normal" fill="#4d4d4d" stroke="#4d4d4d" stroke-width="0.1">7</text>
<text x="40.73" y="278.26" font-size="4.6" text-anchor="middle" font-weight="normal" fill="#4d4d4d" stroke="#4d4d4d" stroke-width="0.1">10</text>
<text x="45.98" y="278.26" font-size="4.6" text-anchor="middle" font-weight="normal" fill="#4d4d4d" stroke="#4d4d4d" stroke-width="0.1">13</text>
<text x="51.23" y="278.26" font-size="4.6" text-anchor="middle" font-weight="normal" fill="#4d4d4d" stroke="#4d4d4d" stroke-width="0.1">16</text>
<text x="56.48" y="278.26" font-size="4.6" text-anchor="middle" font-weight="normal" fill="#4d4d4d" stroke="#4d4d4d" stroke-width="0.1">19</text>
<text x="61.73" y="278.26" font-size="4.6" text-anchor="middle" font-weight="normal" fill="#4d4d4d" stroke="#4d4d4d" stroke-width="0.1">22</text>
<text x="66.97" y="278.26" font-size="4.6" text-anchor="middle" font-weight="normal" fill="#4d4d4d" stroke="#4d4d4d" stroke-width="0.1">25</text>
<text x="72.22" y="278.26" font-size="4.6" text-anchor="middle" font-weight="normal" fill="#4d4d4d" stroke="#4d4d4d" stroke-width="0.1">28</text>
<text x="77.47" y="278.26" font-size="4.6" text-anchor="middle" font-weight="normal" fill="#4d4d4d" stroke="#4d4d4d" stroke-width="0.1">31</text>
<text x="82.72" y="278.26" font-size="4.6" text-anchor="middle" font-weight="normal" fill="#4d4d4d" stroke="#4d4d4d" stroke-width="0.1">34</text>
<text x="87.97" y="278.26" font-size="4.6" text-anchor="middle" font-weight="normal" fill="#4d4d4d" stroke="#4d4d4d" stroke-width="0.1">37</text>
<text x="93.22" y="278.26" font-size="4.6" text-anchor="middle" font-weight="normal" fill="#4d4d4d" stroke="#4d4d4d" stroke-width="0.1">40</text>
<text x="98.47" y="278.26" font-size="4.6" text-anchor="middle" font-weight="normal" fill="#4d4d4d" stroke="#4d4d4d" stroke-width="0.1">43</text>
<text x="103.72" y="278.26" font-size="4.6" text-anchor="middle" font-weight="normal" fill="#4d4d4d" stroke="#4d4d4d" stroke-width="0.1">46</text>
<text transform="translate(56.80,286.89) scale(1,1.15)" font-size="5.3" text-anchor="middle" font-weight="bold" fill="#000" stroke="#000" stroke-width="0.18" textLength="14.2" lengthAdjust="spacingAndGlyphs">N225</text>
<text x="123.90" y="209.86" font-size="4.6" text-anchor="end" font-weight="normal" fill="#4d4d4d" stroke="#4d4d4d" stroke-width="0.1">6200</text>
<text x="123.90" y="225.38" font-size="4.6" text-anchor="end" font-weight="normal" fill="#4d4d4d" stroke="#4d4d4d" stroke-width="0.1">5700</text>
<text x="123.90" y="240.91" font-size="4.6" text-anchor="end" font-weight="normal" fill="#4d4d4d" stroke="#4d4d4d" stroke-width="0.1">5200</text>
<text x="123.90" y="256.43" font-size="4.6" text-anchor="end" font-weight="normal" fill="#4d4d4d" stroke="#4d4d4d" stroke-width="0.1">4700</text>
<text x="123.90" y="271.96" font-size="4.6" text-anchor="end" font-weight="normal" fill="#4d4d4d" stroke="#4d4d4d" stroke-width="0.1">4200</text>
<text x="128.57" y="278.26" font-size="4.6" text-anchor="middle" font-weight="normal" fill="#4d4d4d" stroke="#4d4d4d" stroke-width="0.1">1</text>
<text x="133.82" y="278.26" font-size="4.6" text-anchor="middle" font-weight="normal" fill="#4d4d4d" stroke="#4d4d4d" stroke-width="0.1">4</text>
<text x="139.07" y="278.26" font-size="4.6" text-anchor="middle" font-weight="normal" fill="#4d4d4d" stroke="#4d4d4d" stroke-width="0.1">7</text>
<text x="144.32" y="278.26" font-size="4.6" text-anchor="middle" font-weight="normal" fill="#4d4d4d" stroke="#4d4d4d" stroke-width="0.1">10</text>
<text x="149.57" y="278.26" font-size="4.6" text-anchor="middle" font-weight="normal" fill="#4d4d4d" stroke="#4d4d4d" stroke-width="0.1">13</text>
<text x="154.82" y="278.26" font-size="4.6" text-anchor="middle" font-weight="normal" fill="#4d4d4d" stroke="#4d4d4d" stroke-width="0.1">16</text>
<text x="160.07" y="278.26" font-size="4.6" text-anchor="middle" font-weight="normal" fill="#4d4d4d" stroke="#4d4d4d" stroke-width="0.1">19</text>
<text x="165.32" y="278.26" font-size="4.6" text-anchor="middle" font-weight="normal" fill="#4d4d4d" stroke="#4d4d4d" stroke-width="0.1">22</text>
<text x="170.57" y="278.26" font-size="4.6" text-anchor="middle" font-weight="normal" fill="#4d4d4d" stroke="#4d4d4d" stroke-width="0.1">25</text>
<text x="175.82" y="278.26" font-size="4.6" text-anchor="middle" font-weight="normal" fill="#4d4d4d" stroke="#4d4d4d" stroke-width="0.1">28</text>
<text x="181.07" y="278.26" font-size="4.6" text-anchor="middle" font-weight="normal" fill="#4d4d4d" stroke="#4d4d4d" stroke-width="0.1">31</text>
<text x="186.32" y="278.26" font-size="4.6" text-anchor="middle" font-weight="normal" fill="#4d4d4d" stroke="#4d4d4d" stroke-width="0.1">34</text>
<text x="191.57" y="278.26" font-size="4.6" text-anchor="middle" font-weight="normal" fill="#4d4d4d" stroke="#4d4d4d" stroke-width="0.1">37</text>
<text x="196.82" y="278.26" font-size="4.6" text-anchor="middle" font-weight="normal" fill="#4d4d4d" stroke="#4d4d4d" stroke-width="0.1">40</text>
<text x="202.07" y="278.26" font-size="4.6" text-anchor="middle" font-weight="normal" fill="#4d4d4d" stroke="#4d4d4d" stroke-width="0.1">43</text>
<text x="207.32" y="278.26" font-size="4.6" text-anchor="middle" font-weight="normal" fill="#4d4d4d" stroke="#4d4d4d" stroke-width="0.1">46</text>
<text x="212.57" y="278.26" font-size="4.6" text-anchor="middle" font-weight="normal" fill="#4d4d4d" stroke="#4d4d4d" stroke-width="0.1">49</text>
<text transform="translate(165.90,286.89) scale(1,1.15)" font-size="5.3" text-anchor="middle" font-weight="bold" fill="#000" stroke="#000" stroke-width="0.18" textLength="12.2" lengthAdjust="spacingAndGlyphs">FCHI</text>
<text x="235.80" y="209.86" font-size="4.6" text-anchor="end" font-weight="normal" fill="#4d4d4d" stroke="#4d4d4d" stroke-width="0.1">12,400</text>
<text x="235.80" y="220.21" font-size="4.6" text-anchor="end" font-weight="normal" fill="#4d4d4d" stroke="#4d4d4d" stroke-width="0.1">11,900</text>
<text x="235.80" y="230.56" font-size="4.6" text-anchor="end" font-weight="normal" fill="#4d4d4d" stroke="#4d4d4d" stroke-width="0.1">11,400</text>
<text x="235.80" y="240.91" font-size="4.6" text-anchor="end" font-weight="normal" fill="#4d4d4d" stroke="#4d4d4d" stroke-width="0.1">10,900</text>
<text x="235.80" y="251.26" font-size="4.6" text-anchor="end" font-weight="normal" fill="#4d4d4d" stroke="#4d4d4d" stroke-width="0.1">10,400</text>
<text x="235.80" y="261.61" font-size="4.6" text-anchor="end" font-weight="normal" fill="#4d4d4d" stroke="#4d4d4d" stroke-width="0.1">9 900</text>
<text x="235.80" y="271.96" font-size="4.6" text-anchor="end" font-weight="normal" fill="#4d4d4d" stroke="#4d4d4d" stroke-width="0.1">9 400</text>
<text x="242.66" y="278.26" font-size="4.6" text-anchor="middle" font-weight="normal" fill="#4d4d4d" stroke="#4d4d4d" stroke-width="0.1">1</text>
<text x="249.59" y="278.26" font-size="4.6" text-anchor="middle" font-weight="normal" fill="#4d4d4d" stroke="#4d4d4d" stroke-width="0.1">4</text>
<text x="256.51" y="278.26" font-size="4.6" text-anchor="middle" font-weight="normal" fill="#4d4d4d" stroke="#4d4d4d" stroke-width="0.1">7</text>
<text x="263.44" y="278.26" font-size="4.6" text-anchor="middle" font-weight="normal" fill="#4d4d4d" stroke="#4d4d4d" stroke-width="0.1">10</text>
<text x="270.38" y="278.26" font-size="4.6" text-anchor="middle" font-weight="normal" fill="#4d4d4d" stroke="#4d4d4d" stroke-width="0.1">13</text>
<text x="277.31" y="278.26" font-size="4.6" text-anchor="middle" font-weight="normal" fill="#4d4d4d" stroke="#4d4d4d" stroke-width="0.1">16</text>
<text x="284.24" y="278.26" font-size="4.6" text-anchor="middle" font-weight="normal" fill="#4d4d4d" stroke="#4d4d4d" stroke-width="0.1">19</text>
<text x="291.17" y="278.26" font-size="4.6" text-anchor="middle" font-weight="normal" fill="#4d4d4d" stroke="#4d4d4d" stroke-width="0.1">22</text>
<text x="298.10" y="278.26" font-size="4.6" text-anchor="middle" font-weight="normal" fill="#4d4d4d" stroke="#4d4d4d" stroke-width="0.1">25</text>
<text x="305.02" y="278.26" font-size="4.6" text-anchor="middle" font-weight="normal" fill="#4d4d4d" stroke="#4d4d4d" stroke-width="0.1">28</text>
<text x="311.95" y="278.26" font-size="4.6" text-anchor="middle" font-weight="normal" fill="#4d4d4d" stroke="#4d4d4d" stroke-width="0.1">31</text>
<text x="318.88" y="278.26" font-size="4.6" text-anchor="middle" font-weight="normal" fill="#4d4d4d" stroke="#4d4d4d" stroke-width="0.1">34</text>
<text transform="translate(275.00,286.89) scale(1,1.15)" font-size="5.3" text-anchor="middle" font-weight="bold" fill="#000" stroke="#000" stroke-width="0.18" textLength="12.1" lengthAdjust="spacingAndGlyphs">TWII</text>
<text x="347.10" y="209.86" font-size="4.6" text-anchor="end" font-weight="normal" fill="#4d4d4d" stroke="#4d4d4d" stroke-width="0.1">115,000</text>
<text x="347.10" y="218.73" font-size="4.6" text-anchor="end" font-weight="normal" fill="#4d4d4d" stroke="#4d4d4d" stroke-width="0.1">110,000</text>
<text x="347.10" y="227.60" font-size="4.6" text-anchor="end" font-weight="normal" fill="#4d4d4d" stroke="#4d4d4d" stroke-width="0.1">105,000</text>
<text x="347.10" y="236.47" font-size="4.6" text-anchor="end" font-weight="normal" fill="#4d4d4d" stroke="#4d4d4d" stroke-width="0.1">100,000</text>
<text x="347.10" y="245.34" font-size="4.6" text-anchor="end" font-weight="normal" fill="#4d4d4d" stroke="#4d4d4d" stroke-width="0.1">95,000</text>
<text x="347.10" y="254.21" font-size="4.6" text-anchor="end" font-weight="normal" fill="#4d4d4d" stroke="#4d4d4d" stroke-width="0.1">90,000</text>
<text x="347.10" y="263.08" font-size="4.6" text-anchor="end" font-weight="normal" fill="#4d4d4d" stroke="#4d4d4d" stroke-width="0.1">85,000</text>
<text x="347.10" y="271.96" font-size="4.6" text-anchor="end" font-weight="normal" fill="#4d4d4d" stroke="#4d4d4d" stroke-width="0.1">80,000</text>
<text x="353.62" y="278.26" font-size="4.6" text-anchor="middle" font-weight="normal" fill="#4d4d4d" stroke="#4d4d4d" stroke-width="0.1">1</text>
<text x="360.22" y="278.26" font-size="4.6" text-anchor="middle" font-weight="normal" fill="#4d4d4d" stroke="#4d4d4d" stroke-width="0.1">5</text>
<text x="366.81" y="278.26" font-size="4.6" text-anchor="middle" font-weight="normal" fill="#4d4d4d" stroke="#4d4d4d" stroke-width="0.1">9</text>
<text x="373.40" y="278.26" font-size="4.6" text-anchor="middle" font-weight="normal" fill="#4d4d4d" stroke="#4d4d4d" stroke-width="0.1">13</text>
<text x="379.99" y="278.26" font-size="4.6" text-anchor="middle" font-weight="normal" fill="#4d4d4d" stroke="#4d4d4d" stroke-width="0.1">17</text>
<text x="386.58" y="278.26" font-size="4.6" text-anchor="middle" font-weight="normal" fill="#4d4d4d" stroke="#4d4d4d" stroke-width="0.1">21</text>
<text x="393.18" y="278.26" font-size="4.6" text-anchor="middle" font-weight="normal" fill="#4d4d4d" stroke="#4d4d4d" stroke-width="0.1">25</text>
<text x="399.77" y="278.26" font-size="4.6" text-anchor="middle" font-weight="normal" fill="#4d4d4d" stroke="#4d4d4d" stroke-width="0.1">29</text>
<text x="406.36" y="278.26" font-size="4.6" text-anchor="middle" font-weight="normal" fill="#4d4d4d" stroke="#4d4d4d" stroke-width="0.1">33</text>
<text x="412.95" y="278.26" font-size="4.6" text-anchor="middle" font-weight="normal" fill="#4d4d4d" stroke="#4d4d4d" stroke-width="0.1">37</text>
<text x="419.54" y="278.26" font-size="4.6" text-anchor="middle" font-weight="normal" fill="#4d4d4d" stroke="#4d4d4d" stroke-width="0.1">41</text>
<text x="426.14" y="278.26" font-size="4.6" text-anchor="middle" font-weight="normal" fill="#4d4d4d" stroke="#4d4d4d" stroke-width="0.1">45</text>
<text x="432.73" y="278.26" font-size="4.6" text-anchor="middle" font-weight="normal" fill="#4d4d4d" stroke="#4d4d4d" stroke-width="0.1">49</text>
<text transform="translate(383.50,286.89) scale(1,1.15)" font-size="5.3" text-anchor="middle" font-weight="bold" fill="#000" stroke="#000" stroke-width="0.18" textLength="21.9" lengthAdjust="spacingAndGlyphs">XU100.IS</text>
<text x="456.50" y="209.86" font-size="4.6" text-anchor="end" font-weight="normal" fill="#4d4d4d" stroke="#4d4d4d" stroke-width="0.1">120,000</text>
<text x="456.50" y="218.73" font-size="4.6" text-anchor="end" font-weight="normal" fill="#4d4d4d" stroke="#4d4d4d" stroke-width="0.1">115,000</text>
<text x="456.50" y="227.60" font-size="4.6" text-anchor="end" font-weight="normal" fill="#4d4d4d" stroke="#4d4d4d" stroke-width="0.1">110,000</text>
<text x="456.50" y="236.47" font-size="4.6" text-anchor="end" font-weight="normal" fill="#4d4d4d" stroke="#4d4d4d" stroke-width="0.1">105,000</text>
<text x="456.50" y="245.34" font-size="4.6" text-anchor="end" font-weight="normal" fill="#4d4d4d" stroke="#4d4d4d" stroke-width="0.1">100,000</text>
<text x="456.50" y="254.21" font-size="4.6" text-anchor="end" font-weight="normal" fill="#4d4d4d" stroke="#4d4d4d" stroke-width="0.1">95,000</text>
<text x="456.50" y="263.08" font-size="4.6" text-anchor="end" font-weight="normal" fill="#4d4d4d" stroke="#4d4d4d" stroke-width="0.1">90,000</text>
<text x="456.50" y="271.96" font-size="4.6" text-anchor="end" font-weight="normal" fill="#4d4d4d" stroke="#4d4d4d" stroke-width="0.1">85,000</text>
<text x="462.82" y="278.26" font-size="4.6" text-anchor="middle" font-weight="normal" fill="#4d4d4d" stroke="#4d4d4d" stroke-width="0.1">1</text>
<text x="469.37" y="278.26" font-size="4.6" text-anchor="middle" font-weight="normal" fill="#4d4d4d" stroke="#4d4d4d" stroke-width="0.1">5</text>
<text x="475.92" y="278.26" font-size="4.6" text-anchor="middle" font-weight="normal" fill="#4d4d4d" stroke="#4d4d4d" stroke-width="0.1">9</text>
<text x="482.47" y="278.26" font-size="4.6" text-anchor="middle" font-weight="normal" fill="#4d4d4d" stroke="#4d4d4d" stroke-width="0.1">13</text>
<text x="489.02" y="278.26" font-size="4.6" text-anchor="middle" font-weight="normal" fill="#4d4d4d" stroke="#4d4d4d" stroke-width="0.1">17</text>
<text x="495.57" y="278.26" font-size="4.6" text-anchor="middle" font-weight="normal" fill="#4d4d4d" stroke="#4d4d4d" stroke-width="0.1">21</text>
<text x="502.12" y="278.26" font-size="4.6" text-anchor="middle" font-weight="normal" fill="#4d4d4d" stroke="#4d4d4d" stroke-width="0.1">25</text>
<text x="508.67" y="278.26" font-size="4.6" text-anchor="middle" font-weight="normal" fill="#4d4d4d" stroke="#4d4d4d" stroke-width="0.1">29</text>
<text x="515.22" y="278.26" font-size="4.6" text-anchor="middle" font-weight="normal" fill="#4d4d4d" stroke="#4d4d4d" stroke-width="0.1">33</text>
<text x="521.77" y="278.26" font-size="4.6" text-anchor="middle" font-weight="normal" fill="#4d4d4d" stroke="#4d4d4d" stroke-width="0.1">37</text>
<text x="528.32" y="278.26" font-size="4.6" text-anchor="middle" font-weight="normal" fill="#4d4d4d" stroke="#4d4d4d" stroke-width="0.1">41</text>
<text x="534.87" y="278.26" font-size="4.6" text-anchor="middle" font-weight="normal" fill="#4d4d4d" stroke="#4d4d4d" stroke-width="0.1">45</text>
<text x="541.42" y="278.26" font-size="4.6" text-anchor="middle" font-weight="normal" fill="#4d4d4d" stroke="#4d4d4d" stroke-width="0.1">49</text>
<text transform="translate(492.50,286.89) scale(1,1.15)" font-size="5.3" text-anchor="middle" font-weight="bold" fill="#000" stroke="#000" stroke-width="0.18" textLength="12.6" lengthAdjust="spacingAndGlyphs">BVSP</text>
<text transform="translate(275.00,104.28) scale(1,1.1)" font-size="6.33" text-anchor="middle" font-weight="bold" fill="#000" stroke="#000" stroke-width="0.15">Dataset A - Sentiment score</text>
<text transform="translate(275.00,200.28) scale(1,1.1)" font-size="6.26" text-anchor="middle" font-weight="bold" fill="#000" stroke="#000" stroke-width="0.15">Dataset B - Trading data &amp; technical indicators</text>
<text transform="translate(275.00,295.98) scale(1,1.1)" font-size="6.26" text-anchor="middle" font-weight="bold" fill="#000" stroke="#000" stroke-width="0.15">Dataset C - Hybrid data</text>
<text transform="translate(8.80,5.11) scale(1,1.1)" font-size="4.2" text-anchor="start" font-weight="bold" fill="#000" stroke="#000" stroke-width="0.1">Y-act</text>
<text transform="translate(38.40,5.11) scale(1,1.1)" font-size="4.2" text-anchor="start" font-weight="bold" fill="#000" stroke="#000" stroke-width="0.1">yf</text>
<text transform="translate(38.40,10.66) scale(1,1.1)" font-size="4.2" text-anchor="start" font-weight="bold" fill="#000" stroke="#000" stroke-width="0.1">BPNN</text>
<text transform="translate(69.30,5.11) scale(1,1.1)" font-size="4.2" text-anchor="start" font-weight="bold" fill="#000" stroke="#000" stroke-width="0.1">yf</text>
<text transform="translate(69.30,10.66) scale(1,1.1)" font-size="4.2" text-anchor="start" font-weight="bold" fill="#000" stroke="#000" stroke-width="0.1">LSSVR</text>
<text transform="translate(101.10,5.11) scale(1,1.1)" font-size="4.2" text-anchor="start" font-weight="bold" fill="#000" stroke="#000" stroke-width="0.1">yf</text>
<text transform="translate(101.10,10.66) scale(1,1.1)" font-size="4.2" text-anchor="start" font-weight="bold" fill="#000" stroke="#000" stroke-width="0.1">RF</text>
<text transform="translate(125.20,5.11) scale(1,1.1)" font-size="4.2" text-anchor="start" font-weight="bold" fill="#000" stroke="#000" stroke-width="0.1">yf</text>
<text transform="translate(125.20,10.66) scale(1,1.1)" font-size="4.2" text-anchor="start" font-weight="bold" fill="#000" stroke="#000" stroke-width="0.1">XGB</text>
<text transform="translate(152.50,5.11) scale(1,1.1)" font-size="4.2" text-anchor="start" font-weight="bold" fill="#000" stroke="#000" stroke-width="0.1">yf</text>
<text transform="translate(152.50,10.66) scale(1,1.1)" font-size="4.2" text-anchor="start" font-weight="bold" fill="#000" stroke="#000" stroke-width="0.1">LSTM</text>
</g>
</svg>
</body></html>
